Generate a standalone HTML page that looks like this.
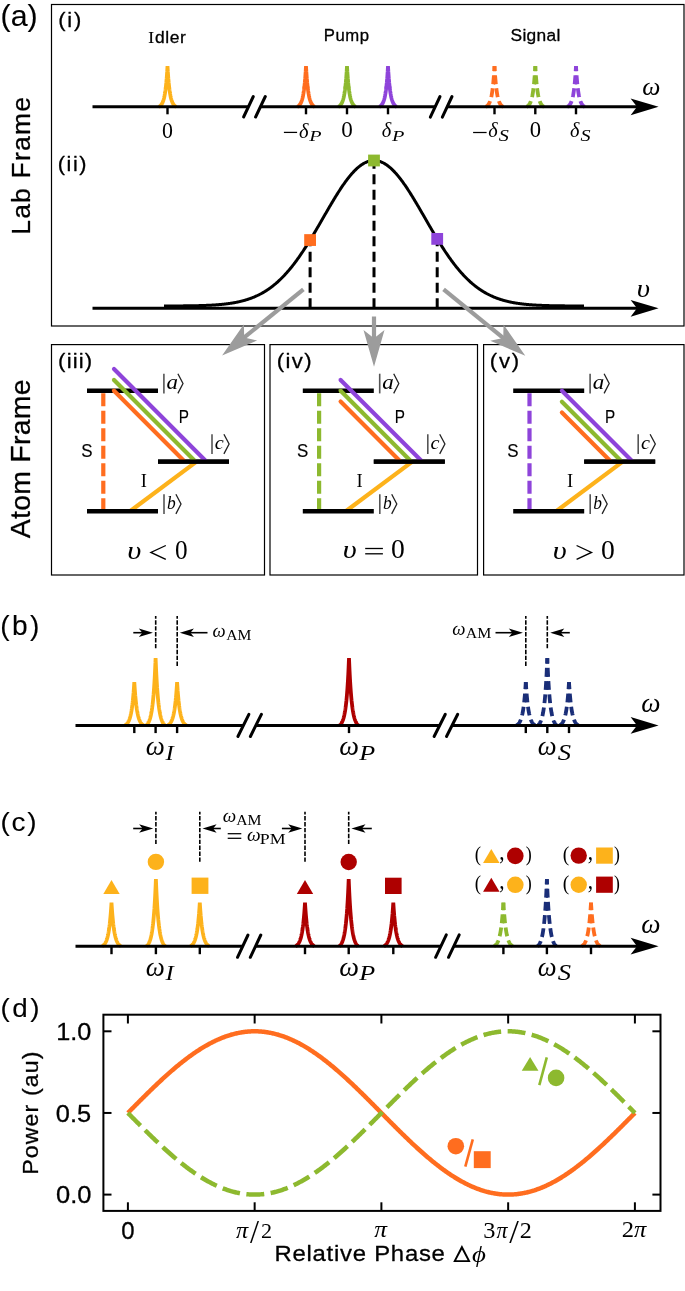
<!DOCTYPE html>
<html><head><meta charset="utf-8"><style>html,body{margin:0;padding:0;background:#fff;overflow:hidden}svg{display:block;will-change:transform}</style></head>
<body><svg width="685" height="1291" viewBox="0 0 685 1291">
<rect width="685" height="1291" fill="#fff"/>
<rect x="51.50" y="4.50" width="632.50" height="321.50" fill="none" stroke="#000" stroke-width="1.2"/>
<path d="M158.70,106.80 L158.88,106.72 L159.05,106.63 L159.23,106.54 L159.40,106.44 L159.58,106.33 L159.76,106.21 L159.93,106.09 L160.11,105.95 L160.28,105.80 L160.46,105.65 L160.64,105.48 L160.81,105.30 L160.99,105.10 L161.16,104.89 L161.34,104.67 L161.52,104.42 L161.69,104.16 L161.87,103.88 L162.04,103.57 L162.22,103.25 L162.40,102.90 L162.57,102.52 L162.75,102.11 L162.92,101.67 L163.10,101.20 L163.28,100.70 L163.45,100.15 L163.63,99.56 L163.80,98.93 L163.98,98.25 L164.16,97.52 L164.33,96.73 L164.51,95.89 L164.68,94.98 L164.86,94.00 L165.04,92.94 L165.21,91.81 L165.39,90.58 L165.56,89.27 L165.74,87.85 L165.92,86.33 L166.09,84.69 L166.27,82.93 L166.44,81.03 L166.62,78.99 L166.80,76.79 L166.97,74.43 L167.15,71.88 L167.32,69.15 L167.50,66.20 L167.68,69.15 L167.85,71.88 L168.03,74.43 L168.20,76.79 L168.38,78.99 L168.56,81.03 L168.73,82.93 L168.91,84.69 L169.08,86.33 L169.26,87.85 L169.44,89.27 L169.61,90.58 L169.79,91.81 L169.96,92.94 L170.14,94.00 L170.32,94.98 L170.49,95.89 L170.67,96.73 L170.84,97.52 L171.02,98.25 L171.20,98.93 L171.37,99.56 L171.55,100.15 L171.72,100.70 L171.90,101.20 L172.08,101.67 L172.25,102.11 L172.43,102.52 L172.60,102.90 L172.78,103.25 L172.96,103.57 L173.13,103.88 L173.31,104.16 L173.48,104.42 L173.66,104.67 L173.84,104.89 L174.01,105.10 L174.19,105.30 L174.36,105.48 L174.54,105.65 L174.72,105.80 L174.89,105.95 L175.07,106.09 L175.24,106.21 L175.42,106.33 L175.60,106.44 L175.77,106.54 L175.95,106.63 L176.12,106.72 L176.30,106.80" fill="none" stroke="#FDB21B" stroke-width="3.8" stroke-linejoin="bevel"/>
<path d="M297.20,106.80 L297.38,106.72 L297.55,106.63 L297.73,106.54 L297.90,106.44 L298.08,106.33 L298.26,106.21 L298.43,106.09 L298.61,105.95 L298.78,105.80 L298.96,105.65 L299.14,105.48 L299.31,105.30 L299.49,105.10 L299.66,104.89 L299.84,104.67 L300.02,104.42 L300.19,104.16 L300.37,103.88 L300.54,103.57 L300.72,103.25 L300.90,102.90 L301.07,102.52 L301.25,102.11 L301.42,101.67 L301.60,101.20 L301.78,100.70 L301.95,100.15 L302.13,99.56 L302.30,98.93 L302.48,98.25 L302.66,97.52 L302.83,96.73 L303.01,95.89 L303.18,94.98 L303.36,94.00 L303.54,92.94 L303.71,91.81 L303.89,90.58 L304.06,89.27 L304.24,87.85 L304.42,86.33 L304.59,84.69 L304.77,82.93 L304.94,81.03 L305.12,78.99 L305.30,76.79 L305.47,74.43 L305.65,71.88 L305.82,69.15 L306.00,66.20 L306.18,69.15 L306.35,71.88 L306.53,74.43 L306.70,76.79 L306.88,78.99 L307.06,81.03 L307.23,82.93 L307.41,84.69 L307.58,86.33 L307.76,87.85 L307.94,89.27 L308.11,90.58 L308.29,91.81 L308.46,92.94 L308.64,94.00 L308.82,94.98 L308.99,95.89 L309.17,96.73 L309.34,97.52 L309.52,98.25 L309.70,98.93 L309.87,99.56 L310.05,100.15 L310.22,100.70 L310.40,101.20 L310.58,101.67 L310.75,102.11 L310.93,102.52 L311.10,102.90 L311.28,103.25 L311.46,103.57 L311.63,103.88 L311.81,104.16 L311.98,104.42 L312.16,104.67 L312.34,104.89 L312.51,105.10 L312.69,105.30 L312.86,105.48 L313.04,105.65 L313.22,105.80 L313.39,105.95 L313.57,106.09 L313.74,106.21 L313.92,106.33 L314.10,106.44 L314.27,106.54 L314.45,106.63 L314.62,106.72 L314.80,106.80" fill="none" stroke="#FF6D1F" stroke-width="3.8" stroke-linejoin="bevel"/>
<path d="M338.20,106.80 L338.38,106.72 L338.55,106.63 L338.73,106.54 L338.90,106.44 L339.08,106.33 L339.26,106.21 L339.43,106.09 L339.61,105.95 L339.78,105.80 L339.96,105.65 L340.14,105.48 L340.31,105.30 L340.49,105.10 L340.66,104.89 L340.84,104.67 L341.02,104.42 L341.19,104.16 L341.37,103.88 L341.54,103.57 L341.72,103.25 L341.90,102.90 L342.07,102.52 L342.25,102.11 L342.42,101.67 L342.60,101.20 L342.78,100.70 L342.95,100.15 L343.13,99.56 L343.30,98.93 L343.48,98.25 L343.66,97.52 L343.83,96.73 L344.01,95.89 L344.18,94.98 L344.36,94.00 L344.54,92.94 L344.71,91.81 L344.89,90.58 L345.06,89.27 L345.24,87.85 L345.42,86.33 L345.59,84.69 L345.77,82.93 L345.94,81.03 L346.12,78.99 L346.30,76.79 L346.47,74.43 L346.65,71.88 L346.82,69.15 L347.00,66.20 L347.18,69.15 L347.35,71.88 L347.53,74.43 L347.70,76.79 L347.88,78.99 L348.06,81.03 L348.23,82.93 L348.41,84.69 L348.58,86.33 L348.76,87.85 L348.94,89.27 L349.11,90.58 L349.29,91.81 L349.46,92.94 L349.64,94.00 L349.82,94.98 L349.99,95.89 L350.17,96.73 L350.34,97.52 L350.52,98.25 L350.70,98.93 L350.87,99.56 L351.05,100.15 L351.22,100.70 L351.40,101.20 L351.58,101.67 L351.75,102.11 L351.93,102.52 L352.10,102.90 L352.28,103.25 L352.46,103.57 L352.63,103.88 L352.81,104.16 L352.98,104.42 L353.16,104.67 L353.34,104.89 L353.51,105.10 L353.69,105.30 L353.86,105.48 L354.04,105.65 L354.22,105.80 L354.39,105.95 L354.57,106.09 L354.74,106.21 L354.92,106.33 L355.10,106.44 L355.27,106.54 L355.45,106.63 L355.62,106.72 L355.80,106.80" fill="none" stroke="#8DB92F" stroke-width="3.8" stroke-linejoin="bevel"/>
<path d="M379.20,106.80 L379.38,106.72 L379.55,106.63 L379.73,106.54 L379.90,106.44 L380.08,106.33 L380.26,106.21 L380.43,106.09 L380.61,105.95 L380.78,105.80 L380.96,105.65 L381.14,105.48 L381.31,105.30 L381.49,105.10 L381.66,104.89 L381.84,104.67 L382.02,104.42 L382.19,104.16 L382.37,103.88 L382.54,103.57 L382.72,103.25 L382.90,102.90 L383.07,102.52 L383.25,102.11 L383.42,101.67 L383.60,101.20 L383.78,100.70 L383.95,100.15 L384.13,99.56 L384.30,98.93 L384.48,98.25 L384.66,97.52 L384.83,96.73 L385.01,95.89 L385.18,94.98 L385.36,94.00 L385.54,92.94 L385.71,91.81 L385.89,90.58 L386.06,89.27 L386.24,87.85 L386.42,86.33 L386.59,84.69 L386.77,82.93 L386.94,81.03 L387.12,78.99 L387.30,76.79 L387.47,74.43 L387.65,71.88 L387.82,69.15 L388.00,66.20 L388.18,69.15 L388.35,71.88 L388.53,74.43 L388.70,76.79 L388.88,78.99 L389.06,81.03 L389.23,82.93 L389.41,84.69 L389.58,86.33 L389.76,87.85 L389.94,89.27 L390.11,90.58 L390.29,91.81 L390.46,92.94 L390.64,94.00 L390.82,94.98 L390.99,95.89 L391.17,96.73 L391.34,97.52 L391.52,98.25 L391.70,98.93 L391.87,99.56 L392.05,100.15 L392.22,100.70 L392.40,101.20 L392.58,101.67 L392.75,102.11 L392.93,102.52 L393.10,102.90 L393.28,103.25 L393.46,103.57 L393.63,103.88 L393.81,104.16 L393.98,104.42 L394.16,104.67 L394.34,104.89 L394.51,105.10 L394.69,105.30 L394.86,105.48 L395.04,105.65 L395.22,105.80 L395.39,105.95 L395.57,106.09 L395.74,106.21 L395.92,106.33 L396.10,106.44 L396.27,106.54 L396.45,106.63 L396.62,106.72 L396.80,106.80" fill="none" stroke="#8E44DA" stroke-width="3.8" stroke-linejoin="bevel"/>
<path d="M485.70,106.80 L485.88,106.72 L486.05,106.63 L486.23,106.54 L486.40,106.44 L486.58,106.33 L486.76,106.21 L486.93,106.09 L487.11,105.95 L487.28,105.80 L487.46,105.65 L487.64,105.48 L487.81,105.30 L487.99,105.10 L488.16,104.89 L488.34,104.67 L488.52,104.42 L488.69,104.16 L488.87,103.88 L489.04,103.57 L489.22,103.25 L489.40,102.90 L489.57,102.52 L489.75,102.11 L489.92,101.67 L490.10,101.20 L490.28,100.70 L490.45,100.15 L490.63,99.56 L490.80,98.93 L490.98,98.25 L491.16,97.52 L491.33,96.73 L491.51,95.89 L491.68,94.98 L491.86,94.00 L492.04,92.94 L492.21,91.81 L492.39,90.58 L492.56,89.27 L492.74,87.85 L492.92,86.33 L493.09,84.69 L493.27,82.93 L493.44,81.03 L493.62,78.99 L493.80,76.79 L493.97,74.43 L494.15,71.88 L494.32,69.15 L494.50,66.20" fill="none" stroke="#FF6D1F" stroke-width="3.8" stroke-dasharray="9,4.1" stroke-dashoffset="1.63"/>
<path d="M503.30,106.80 L503.12,106.72 L502.95,106.63 L502.77,106.54 L502.60,106.44 L502.42,106.33 L502.24,106.21 L502.07,106.09 L501.89,105.95 L501.72,105.80 L501.54,105.65 L501.36,105.48 L501.19,105.30 L501.01,105.10 L500.84,104.89 L500.66,104.67 L500.48,104.42 L500.31,104.16 L500.13,103.88 L499.96,103.57 L499.78,103.25 L499.60,102.90 L499.43,102.52 L499.25,102.11 L499.08,101.67 L498.90,101.20 L498.72,100.70 L498.55,100.15 L498.37,99.56 L498.20,98.93 L498.02,98.25 L497.84,97.52 L497.67,96.73 L497.49,95.89 L497.32,94.98 L497.14,94.00 L496.96,92.94 L496.79,91.81 L496.61,90.58 L496.44,89.27 L496.26,87.85 L496.08,86.33 L495.91,84.69 L495.73,82.93 L495.56,81.03 L495.38,78.99 L495.20,76.79 L495.03,74.43 L494.85,71.88 L494.68,69.15 L494.50,66.20" fill="none" stroke="#FF6D1F" stroke-width="3.8" stroke-dasharray="9,4.1" stroke-dashoffset="1.63"/>
<path d="M526.50,106.80 L526.68,106.72 L526.85,106.63 L527.03,106.54 L527.20,106.44 L527.38,106.33 L527.56,106.21 L527.73,106.09 L527.91,105.95 L528.08,105.80 L528.26,105.65 L528.44,105.48 L528.61,105.30 L528.79,105.10 L528.96,104.89 L529.14,104.67 L529.32,104.42 L529.49,104.16 L529.67,103.88 L529.84,103.57 L530.02,103.25 L530.20,102.90 L530.37,102.52 L530.55,102.11 L530.72,101.67 L530.90,101.20 L531.08,100.70 L531.25,100.15 L531.43,99.56 L531.60,98.93 L531.78,98.25 L531.96,97.52 L532.13,96.73 L532.31,95.89 L532.48,94.98 L532.66,94.00 L532.84,92.94 L533.01,91.81 L533.19,90.58 L533.36,89.27 L533.54,87.85 L533.72,86.33 L533.89,84.69 L534.07,82.93 L534.24,81.03 L534.42,78.99 L534.60,76.79 L534.77,74.43 L534.95,71.88 L535.12,69.15 L535.30,66.20" fill="none" stroke="#8DB92F" stroke-width="3.8" stroke-dasharray="9,4.1" stroke-dashoffset="1.63"/>
<path d="M544.10,106.80 L543.92,106.72 L543.75,106.63 L543.57,106.54 L543.40,106.44 L543.22,106.33 L543.04,106.21 L542.87,106.09 L542.69,105.95 L542.52,105.80 L542.34,105.65 L542.16,105.48 L541.99,105.30 L541.81,105.10 L541.64,104.89 L541.46,104.67 L541.28,104.42 L541.11,104.16 L540.93,103.88 L540.76,103.57 L540.58,103.25 L540.40,102.90 L540.23,102.52 L540.05,102.11 L539.88,101.67 L539.70,101.20 L539.52,100.70 L539.35,100.15 L539.17,99.56 L539.00,98.93 L538.82,98.25 L538.64,97.52 L538.47,96.73 L538.29,95.89 L538.12,94.98 L537.94,94.00 L537.76,92.94 L537.59,91.81 L537.41,90.58 L537.24,89.27 L537.06,87.85 L536.88,86.33 L536.71,84.69 L536.53,82.93 L536.36,81.03 L536.18,78.99 L536.00,76.79 L535.83,74.43 L535.65,71.88 L535.48,69.15 L535.30,66.20" fill="none" stroke="#8DB92F" stroke-width="3.8" stroke-dasharray="9,4.1" stroke-dashoffset="1.63"/>
<path d="M567.20,106.80 L567.38,106.72 L567.55,106.63 L567.73,106.54 L567.90,106.44 L568.08,106.33 L568.26,106.21 L568.43,106.09 L568.61,105.95 L568.78,105.80 L568.96,105.65 L569.14,105.48 L569.31,105.30 L569.49,105.10 L569.66,104.89 L569.84,104.67 L570.02,104.42 L570.19,104.16 L570.37,103.88 L570.54,103.57 L570.72,103.25 L570.90,102.90 L571.07,102.52 L571.25,102.11 L571.42,101.67 L571.60,101.20 L571.78,100.70 L571.95,100.15 L572.13,99.56 L572.30,98.93 L572.48,98.25 L572.66,97.52 L572.83,96.73 L573.01,95.89 L573.18,94.98 L573.36,94.00 L573.54,92.94 L573.71,91.81 L573.89,90.58 L574.06,89.27 L574.24,87.85 L574.42,86.33 L574.59,84.69 L574.77,82.93 L574.94,81.03 L575.12,78.99 L575.30,76.79 L575.47,74.43 L575.65,71.88 L575.82,69.15 L576.00,66.20" fill="none" stroke="#8E44DA" stroke-width="3.8" stroke-dasharray="9,4.1" stroke-dashoffset="1.63"/>
<path d="M584.80,106.80 L584.62,106.72 L584.45,106.63 L584.27,106.54 L584.10,106.44 L583.92,106.33 L583.74,106.21 L583.57,106.09 L583.39,105.95 L583.22,105.80 L583.04,105.65 L582.86,105.48 L582.69,105.30 L582.51,105.10 L582.34,104.89 L582.16,104.67 L581.98,104.42 L581.81,104.16 L581.63,103.88 L581.46,103.57 L581.28,103.25 L581.10,102.90 L580.93,102.52 L580.75,102.11 L580.58,101.67 L580.40,101.20 L580.22,100.70 L580.05,100.15 L579.87,99.56 L579.70,98.93 L579.52,98.25 L579.34,97.52 L579.17,96.73 L578.99,95.89 L578.82,94.98 L578.64,94.00 L578.46,92.94 L578.29,91.81 L578.11,90.58 L577.94,89.27 L577.76,87.85 L577.58,86.33 L577.41,84.69 L577.23,82.93 L577.06,81.03 L576.88,78.99 L576.70,76.79 L576.53,74.43 L576.35,71.88 L576.18,69.15 L576.00,66.20" fill="none" stroke="#8E44DA" stroke-width="3.8" stroke-dasharray="9,4.1" stroke-dashoffset="1.63"/>
<line x1="92.50" y1="106.80" x2="638.00" y2="106.80" stroke="#000" stroke-width="3" />
<polygon points="658.60,106.80 630.60,98.45 637.00,106.80 630.60,115.15" fill="#000"/>
<polygon points="249.87,103.75 261.87,103.75 259.03,109.75 247.03,109.75" fill="#fff"/>
<line x1="243.60" y1="117.00" x2="253.30" y2="96.50" stroke="#000" stroke-width="3" stroke-linecap="round"/>
<line x1="255.60" y1="117.00" x2="265.30" y2="96.50" stroke="#000" stroke-width="3" stroke-linecap="round"/>
<polygon points="436.58,103.80 448.58,103.80 445.77,109.80 433.77,109.80" fill="#fff"/>
<line x1="430.35" y1="117.10" x2="440.00" y2="96.50" stroke="#000" stroke-width="3" stroke-linecap="round"/>
<line x1="442.35" y1="117.10" x2="452.00" y2="96.50" stroke="#000" stroke-width="3" stroke-linecap="round"/>
<line x1="167.50" y1="106.80" x2="167.50" y2="114.30" stroke="#000" stroke-width="2.4" />
<line x1="306.00" y1="106.80" x2="306.00" y2="114.30" stroke="#000" stroke-width="2.4" />
<line x1="347.00" y1="106.80" x2="347.00" y2="114.30" stroke="#000" stroke-width="2.4" />
<line x1="388.00" y1="106.80" x2="388.00" y2="114.30" stroke="#000" stroke-width="2.4" />
<line x1="494.50" y1="106.80" x2="494.50" y2="114.30" stroke="#000" stroke-width="2.4" />
<line x1="535.30" y1="106.80" x2="535.30" y2="114.30" stroke="#000" stroke-width="2.4" />
<line x1="576.00" y1="106.80" x2="576.00" y2="114.30" stroke="#000" stroke-width="2.4" />
<rect x="283.90" y="131.78" width="13.20" height="1.25" fill="#000"/>
<rect x="473.10" y="131.88" width="13.50" height="1.25" fill="#000"/>
<path d="M164.00,305.97 L164.50,305.97 L165.00,305.97 L165.50,305.97 L166.00,305.97 L166.50,305.97 L167.00,305.96 L167.50,305.96 L168.00,305.96 L168.50,305.96 L169.00,305.96 L169.50,305.96 L170.00,305.95 L170.50,305.95 L171.00,305.95 L171.50,305.95 L172.00,305.95 L172.50,305.94 L173.00,305.94 L173.50,305.94 L174.00,305.94 L174.50,305.93 L175.00,305.93 L175.50,305.93 L176.00,305.93 L176.50,305.92 L177.00,305.92 L177.50,305.92 L178.00,305.91 L178.50,305.91 L179.00,305.91 L179.50,305.90 L180.00,305.90 L180.50,305.90 L181.00,305.89 L181.50,305.89 L182.00,305.88 L182.50,305.88 L183.00,305.88 L183.50,305.87 L184.00,305.87 L184.50,305.86 L185.00,305.86 L185.50,305.85 L186.00,305.85 L186.50,305.84 L187.00,305.83 L187.50,305.83 L188.00,305.82 L188.50,305.81 L189.00,305.81 L189.50,305.80 L190.00,305.79 L190.50,305.79 L191.00,305.78 L191.50,305.77 L192.00,305.76 L192.50,305.75 L193.00,305.75 L193.50,305.74 L194.00,305.73 L194.50,305.72 L195.00,305.71 L195.50,305.70 L196.00,305.69 L196.50,305.68 L197.00,305.66 L197.50,305.65 L198.00,305.64 L198.50,305.63 L199.00,305.61 L199.50,305.60 L200.00,305.59 L200.50,305.57 L201.00,305.56 L201.50,305.54 L202.00,305.53 L202.50,305.51 L203.00,305.50 L203.50,305.48 L204.00,305.46 L204.50,305.44 L205.00,305.43 L205.50,305.41 L206.00,305.39 L206.50,305.37 L207.00,305.35 L207.50,305.32 L208.00,305.30 L208.50,305.28 L209.00,305.26 L209.50,305.23 L210.00,305.21 L210.50,305.18 L211.00,305.15 L211.50,305.13 L212.00,305.10 L212.50,305.07 L213.00,305.04 L213.50,305.01 L214.00,304.98 L214.50,304.95 L215.00,304.91 L215.50,304.88 L216.00,304.85 L216.50,304.81 L217.00,304.77 L217.50,304.74 L218.00,304.70 L218.50,304.66 L219.00,304.62 L219.50,304.57 L220.00,304.53 L220.50,304.49 L221.00,304.44 L221.50,304.39 L222.00,304.35 L222.50,304.30 L223.00,304.24 L223.50,304.19 L224.00,304.14 L224.50,304.08 L225.00,304.03 L225.50,303.97 L226.00,303.91 L226.50,303.85 L227.00,303.79 L227.50,303.73 L228.00,303.66 L228.50,303.59 L229.00,303.52 L229.50,303.45 L230.00,303.38 L230.50,303.31 L231.00,303.23 L231.50,303.15 L232.00,303.07 L232.50,302.99 L233.00,302.91 L233.50,302.82 L234.00,302.74 L234.50,302.65 L235.00,302.56 L235.50,302.46 L236.00,302.37 L236.50,302.27 L237.00,302.17 L237.50,302.06 L238.00,301.96 L238.50,301.85 L239.00,301.74 L239.50,301.63 L240.00,301.51 L240.50,301.40 L241.00,301.27 L241.50,301.15 L242.00,301.03 L242.50,300.90 L243.00,300.77 L243.50,300.63 L244.00,300.49 L244.50,300.35 L245.00,300.21 L245.50,300.06 L246.00,299.92 L246.50,299.76 L247.00,299.61 L247.50,299.45 L248.00,299.29 L248.50,299.12 L249.00,298.95 L249.50,298.78 L250.00,298.60 L250.50,298.42 L251.00,298.24 L251.50,298.05 L252.00,297.86 L252.50,297.67 L253.00,297.47 L253.50,297.27 L254.00,297.06 L254.50,296.85 L255.00,296.64 L255.50,296.42 L256.00,296.20 L256.50,295.97 L257.00,295.74 L257.50,295.51 L258.00,295.27 L258.50,295.03 L259.00,294.78 L259.50,294.53 L260.00,294.27 L260.50,294.01 L261.00,293.74 L261.50,293.47 L262.00,293.20 L262.50,292.92 L263.00,292.63 L263.50,292.34 L264.00,292.05 L264.50,291.75 L265.00,291.44 L265.50,291.13 L266.00,290.82 L266.50,290.50 L267.00,290.17 L267.50,289.84 L268.00,289.50 L268.50,289.16 L269.00,288.81 L269.50,288.46 L270.00,288.10 L270.50,287.74 L271.00,287.37 L271.50,287.00 L272.00,286.62 L272.50,286.23 L273.00,285.84 L273.50,285.44 L274.00,285.04 L274.50,284.63 L275.00,284.21 L275.50,283.79 L276.00,283.37 L276.50,282.93 L277.00,282.50 L277.50,282.05 L278.00,281.60 L278.50,281.14 L279.00,280.68 L279.50,280.21 L280.00,279.74 L280.50,279.25 L281.00,278.77 L281.50,278.27 L282.00,277.77 L282.50,277.27 L283.00,276.75 L283.50,276.24 L284.00,275.71 L284.50,275.18 L285.00,274.64 L285.50,274.10 L286.00,273.55 L286.50,272.99 L287.00,272.43 L287.50,271.86 L288.00,271.28 L288.50,270.70 L289.00,270.11 L289.50,269.52 L290.00,268.92 L290.50,268.31 L291.00,267.70 L291.50,267.08 L292.00,266.46 L292.50,265.83 L293.00,265.19 L293.50,264.54 L294.00,263.89 L294.50,263.24 L295.00,262.58 L295.50,261.91 L296.00,261.24 L296.50,260.56 L297.00,259.87 L297.50,259.18 L298.00,258.48 L298.50,257.78 L299.00,257.07 L299.50,256.36 L300.00,255.64 L300.50,254.92 L301.00,254.18 L301.50,253.45 L302.00,252.71 L302.50,251.96 L303.00,251.21 L303.50,250.46 L304.00,249.69 L304.50,248.93 L305.00,248.16 L305.50,247.38 L306.00,246.60 L306.50,245.82 L307.00,245.03 L307.50,244.23 L308.00,243.44 L308.50,242.63 L309.00,241.83 L309.50,241.02 L310.00,240.20 L310.50,239.39 L311.00,238.56 L311.50,237.74 L312.00,236.91 L312.50,236.08 L313.00,235.24 L313.50,234.41 L314.00,233.57 L314.50,232.72 L315.00,231.88 L315.50,231.03 L316.00,230.18 L316.50,229.32 L317.00,228.47 L317.50,227.61 L318.00,226.75 L318.50,225.89 L319.00,225.03 L319.50,224.17 L320.00,223.30 L320.50,222.44 L321.00,221.57 L321.50,220.70 L322.00,219.83 L322.50,218.97 L323.00,218.10 L323.50,217.23 L324.00,216.36 L324.50,215.49 L325.00,214.62 L325.50,213.76 L326.00,212.89 L326.50,212.03 L327.00,211.16 L327.50,210.30 L328.00,209.44 L328.50,208.58 L329.00,207.72 L329.50,206.86 L330.00,206.01 L330.50,205.16 L331.00,204.31 L331.50,203.46 L332.00,202.62 L332.50,201.78 L333.00,200.95 L333.50,200.11 L334.00,199.28 L334.50,198.46 L335.00,197.64 L335.50,196.82 L336.00,196.01 L336.50,195.20 L337.00,194.40 L337.50,193.60 L338.00,192.81 L338.50,192.02 L339.00,191.24 L339.50,190.47 L340.00,189.70 L340.50,188.93 L341.00,188.18 L341.50,187.43 L342.00,186.68 L342.50,185.95 L343.00,185.22 L343.50,184.50 L344.00,183.78 L344.50,183.08 L345.00,182.38 L345.50,181.69 L346.00,181.00 L346.50,180.33 L347.00,179.67 L347.50,179.01 L348.00,178.36 L348.50,177.72 L349.00,177.09 L349.50,176.47 L350.00,175.86 L350.50,175.26 L351.00,174.67 L351.50,174.09 L352.00,173.52 L352.50,172.96 L353.00,172.42 L353.50,171.88 L354.00,171.35 L354.50,170.83 L355.00,170.33 L355.50,169.84 L356.00,169.35 L356.50,168.88 L357.00,168.42 L357.50,167.98 L358.00,167.54 L358.50,167.12 L359.00,166.71 L359.50,166.31 L360.00,165.92 L360.50,165.55 L361.00,165.19 L361.50,164.84 L362.00,164.50 L362.50,164.18 L363.00,163.87 L363.50,163.58 L364.00,163.29 L364.50,163.02 L365.00,162.77 L365.50,162.52 L366.00,162.29 L366.50,162.08 L367.00,161.87 L367.50,161.69 L368.00,161.51 L368.50,161.35 L369.00,161.20 L369.50,161.07 L370.00,160.95 L370.50,160.84 L371.00,160.75 L371.50,160.68 L372.00,160.61 L372.50,160.56 L373.00,160.53 L373.50,160.51 L374.00,160.50 L374.50,160.51 L375.00,160.53 L375.50,160.56 L376.00,160.61 L376.50,160.68 L377.00,160.75 L377.50,160.84 L378.00,160.95 L378.50,161.07 L379.00,161.20 L379.50,161.35 L380.00,161.51 L380.50,161.69 L381.00,161.87 L381.50,162.08 L382.00,162.29 L382.50,162.52 L383.00,162.77 L383.50,163.02 L384.00,163.29 L384.50,163.58 L385.00,163.87 L385.50,164.18 L386.00,164.50 L386.50,164.84 L387.00,165.19 L387.50,165.55 L388.00,165.92 L388.50,166.31 L389.00,166.71 L389.50,167.12 L390.00,167.54 L390.50,167.98 L391.00,168.42 L391.50,168.88 L392.00,169.35 L392.50,169.84 L393.00,170.33 L393.50,170.83 L394.00,171.35 L394.50,171.88 L395.00,172.42 L395.50,172.96 L396.00,173.52 L396.50,174.09 L397.00,174.67 L397.50,175.26 L398.00,175.86 L398.50,176.47 L399.00,177.09 L399.50,177.72 L400.00,178.36 L400.50,179.01 L401.00,179.67 L401.50,180.33 L402.00,181.00 L402.50,181.69 L403.00,182.38 L403.50,183.08 L404.00,183.78 L404.50,184.50 L405.00,185.22 L405.50,185.95 L406.00,186.68 L406.50,187.43 L407.00,188.18 L407.50,188.93 L408.00,189.70 L408.50,190.47 L409.00,191.24 L409.50,192.02 L410.00,192.81 L410.50,193.60 L411.00,194.40 L411.50,195.20 L412.00,196.01 L412.50,196.82 L413.00,197.64 L413.50,198.46 L414.00,199.28 L414.50,200.11 L415.00,200.95 L415.50,201.78 L416.00,202.62 L416.50,203.46 L417.00,204.31 L417.50,205.16 L418.00,206.01 L418.50,206.86 L419.00,207.72 L419.50,208.58 L420.00,209.44 L420.50,210.30 L421.00,211.16 L421.50,212.03 L422.00,212.89 L422.50,213.76 L423.00,214.62 L423.50,215.49 L424.00,216.36 L424.50,217.23 L425.00,218.10 L425.50,218.97 L426.00,219.83 L426.50,220.70 L427.00,221.57 L427.50,222.44 L428.00,223.30 L428.50,224.17 L429.00,225.03 L429.50,225.89 L430.00,226.75 L430.50,227.61 L431.00,228.47 L431.50,229.32 L432.00,230.18 L432.50,231.03 L433.00,231.88 L433.50,232.72 L434.00,233.57 L434.50,234.41 L435.00,235.24 L435.50,236.08 L436.00,236.91 L436.50,237.74 L437.00,238.56 L437.50,239.39 L438.00,240.20 L438.50,241.02 L439.00,241.83 L439.50,242.63 L440.00,243.44 L440.50,244.23 L441.00,245.03 L441.50,245.82 L442.00,246.60 L442.50,247.38 L443.00,248.16 L443.50,248.93 L444.00,249.69 L444.50,250.46 L445.00,251.21 L445.50,251.96 L446.00,252.71 L446.50,253.45 L447.00,254.18 L447.50,254.92 L448.00,255.64 L448.50,256.36 L449.00,257.07 L449.50,257.78 L450.00,258.48 L450.50,259.18 L451.00,259.87 L451.50,260.56 L452.00,261.24 L452.50,261.91 L453.00,262.58 L453.50,263.24 L454.00,263.89 L454.50,264.54 L455.00,265.19 L455.50,265.83 L456.00,266.46 L456.50,267.08 L457.00,267.70 L457.50,268.31 L458.00,268.92 L458.50,269.52 L459.00,270.11 L459.50,270.70 L460.00,271.28 L460.50,271.86 L461.00,272.43 L461.50,272.99 L462.00,273.55 L462.50,274.10 L463.00,274.64 L463.50,275.18 L464.00,275.71 L464.50,276.24 L465.00,276.75 L465.50,277.27 L466.00,277.77 L466.50,278.27 L467.00,278.77 L467.50,279.25 L468.00,279.74 L468.50,280.21 L469.00,280.68 L469.50,281.14 L470.00,281.60 L470.50,282.05 L471.00,282.50 L471.50,282.93 L472.00,283.37 L472.50,283.79 L473.00,284.21 L473.50,284.63 L474.00,285.04 L474.50,285.44 L475.00,285.84 L475.50,286.23 L476.00,286.62 L476.50,287.00 L477.00,287.37 L477.50,287.74 L478.00,288.10 L478.50,288.46 L479.00,288.81 L479.50,289.16 L480.00,289.50 L480.50,289.84 L481.00,290.17 L481.50,290.50 L482.00,290.82 L482.50,291.13 L483.00,291.44 L483.50,291.75 L484.00,292.05 L484.50,292.34 L485.00,292.63 L485.50,292.92 L486.00,293.20 L486.50,293.47 L487.00,293.74 L487.50,294.01 L488.00,294.27 L488.50,294.53 L489.00,294.78 L489.50,295.03 L490.00,295.27 L490.50,295.51 L491.00,295.74 L491.50,295.97 L492.00,296.20 L492.50,296.42 L493.00,296.64 L493.50,296.85 L494.00,297.06 L494.50,297.27 L495.00,297.47 L495.50,297.67 L496.00,297.86 L496.50,298.05 L497.00,298.24 L497.50,298.42 L498.00,298.60 L498.50,298.78 L499.00,298.95 L499.50,299.12 L500.00,299.29 L500.50,299.45 L501.00,299.61 L501.50,299.76 L502.00,299.92 L502.50,300.06 L503.00,300.21 L503.50,300.35 L504.00,300.49 L504.50,300.63 L505.00,300.77 L505.50,300.90 L506.00,301.03 L506.50,301.15 L507.00,301.27 L507.50,301.40 L508.00,301.51 L508.50,301.63 L509.00,301.74 L509.50,301.85 L510.00,301.96 L510.50,302.06 L511.00,302.17 L511.50,302.27 L512.00,302.37 L512.50,302.46 L513.00,302.56 L513.50,302.65 L514.00,302.74 L514.50,302.82 L515.00,302.91 L515.50,302.99 L516.00,303.07 L516.50,303.15 L517.00,303.23 L517.50,303.31 L518.00,303.38 L518.50,303.45 L519.00,303.52 L519.50,303.59 L520.00,303.66 L520.50,303.73 L521.00,303.79 L521.50,303.85 L522.00,303.91 L522.50,303.97 L523.00,304.03 L523.50,304.08 L524.00,304.14 L524.50,304.19 L525.00,304.24 L525.50,304.30 L526.00,304.35 L526.50,304.39 L527.00,304.44 L527.50,304.49 L528.00,304.53 L528.50,304.57 L529.00,304.62 L529.50,304.66 L530.00,304.70 L530.50,304.74 L531.00,304.77 L531.50,304.81 L532.00,304.85 L532.50,304.88 L533.00,304.91 L533.50,304.95 L534.00,304.98 L534.50,305.01 L535.00,305.04 L535.50,305.07 L536.00,305.10 L536.50,305.13 L537.00,305.15 L537.50,305.18 L538.00,305.21 L538.50,305.23 L539.00,305.26 L539.50,305.28 L540.00,305.30 L540.50,305.32 L541.00,305.35 L541.50,305.37 L542.00,305.39 L542.50,305.41 L543.00,305.43 L543.50,305.44 L544.00,305.46 L544.50,305.48 L545.00,305.50 L545.50,305.51 L546.00,305.53 L546.50,305.54 L547.00,305.56 L547.50,305.57 L548.00,305.59 L548.50,305.60 L549.00,305.61 L549.50,305.63 L550.00,305.64 L550.50,305.65 L551.00,305.66 L551.50,305.68 L552.00,305.69 L552.50,305.70 L553.00,305.71 L553.50,305.72 L554.00,305.73 L554.50,305.74 L555.00,305.75 L555.50,305.75 L556.00,305.76 L556.50,305.77 L557.00,305.78 L557.50,305.79 L558.00,305.79 L558.50,305.80 L559.00,305.81 L559.50,305.81 L560.00,305.82 L560.50,305.83 L561.00,305.83 L561.50,305.84 L562.00,305.85 L562.50,305.85 L563.00,305.86 L563.50,305.86 L564.00,305.87 L564.50,305.87 L565.00,305.88 L565.50,305.88 L566.00,305.88 L566.50,305.89 L567.00,305.89 L567.50,305.90 L568.00,305.90 L568.50,305.90 L569.00,305.91 L569.50,305.91 L570.00,305.91 L570.50,305.92 L571.00,305.92 L571.50,305.92 L572.00,305.93 L572.50,305.93 L573.00,305.93 L573.50,305.93 L574.00,305.94 L574.50,305.94 L575.00,305.94 L575.50,305.94 L576.00,305.95 L576.50,305.95 L577.00,305.95 L577.50,305.95 L578.00,305.95 L578.50,305.96 L579.00,305.96 L579.50,305.96 L580.00,305.96 L580.50,305.96 L581.00,305.96 L581.50,305.97 L582.00,305.97 L582.50,305.97 L583.00,305.97 L583.50,305.97 L584.00,305.97" fill="none" stroke="#000" stroke-width="3.0" />
<line x1="310.10" y1="308.30" x2="310.10" y2="240.04" stroke="#000" stroke-width="3" stroke-dasharray="10,5.5"/>
<rect x="304.20" y="234.14" width="11.80" height="11.80" fill="#FF6D1F"/>
<line x1="374.00" y1="308.30" x2="374.00" y2="160.50" stroke="#000" stroke-width="3" stroke-dasharray="10,5.5"/>
<rect x="368.10" y="154.60" width="11.80" height="11.80" fill="#8DB92F"/>
<line x1="437.20" y1="308.30" x2="437.20" y2="238.89" stroke="#000" stroke-width="3" stroke-dasharray="10,5.5"/>
<rect x="431.30" y="232.99" width="11.80" height="11.80" fill="#8E44DA"/>
<line x1="92.50" y1="308.30" x2="638.00" y2="308.30" stroke="#000" stroke-width="3" />
<polygon points="658.60,308.30 630.60,299.95 637.00,308.30 630.60,316.65" fill="#000"/>
<rect x="51.50" y="344.60" width="213.00" height="230.40" fill="none" stroke="#000" stroke-width="1.2"/>
<rect x="270.00" y="344.60" width="207.50" height="230.40" fill="none" stroke="#000" stroke-width="1.2"/>
<rect x="483.60" y="344.60" width="200.40" height="230.40" fill="none" stroke="#000" stroke-width="1.2"/>
<line x1="303.40" y1="289.40" x2="243.37" y2="338.13" stroke="#9C9C9C" stroke-width="4.2" />
<polygon points="222.10,355.40 243.90,324.18 244.15,337.50 257.13,340.48" fill="#9C9C9C"/>
<line x1="374.00" y1="316.50" x2="374.00" y2="339.30" stroke="#9C9C9C" stroke-width="4.2" />
<polygon points="374.00,366.70 363.50,330.10 374.00,338.30 384.50,330.10" fill="#9C9C9C"/>
<line x1="443.60" y1="289.40" x2="504.04" y2="338.52" stroke="#9C9C9C" stroke-width="4.2" />
<polygon points="525.30,355.80 490.28,340.86 503.26,337.89 503.52,324.57" fill="#9C9C9C"/>
<line x1="103.30" y1="511.30" x2="103.30" y2="390.80" stroke="#FF6D1F" stroke-width="4.2" stroke-dasharray="13,4.5"/>
<line x1="130.00" y1="511.30" x2="196.50" y2="461.60" stroke="#FDB21B" stroke-width="4.2" />
<line x1="87.00" y1="390.80" x2="158.00" y2="390.80" stroke="#000" stroke-width="4.4" />
<line x1="87.00" y1="511.30" x2="158.00" y2="511.30" stroke="#000" stroke-width="4.4" />
<line x1="158.00" y1="461.60" x2="229.00" y2="461.60" stroke="#000" stroke-width="4.4" />
<line x1="114.00" y1="390.80" x2="183.60" y2="460.40" stroke="#FF6D1F" stroke-width="4.2" stroke-linecap="round"/>
<line x1="114.00" y1="380.00" x2="194.40" y2="460.40" stroke="#8DB92F" stroke-width="4.2" stroke-linecap="round"/>
<line x1="114.00" y1="369.10" x2="205.30" y2="460.40" stroke="#8E44DA" stroke-width="4.2" stroke-linecap="round"/>
<line x1="158.00" y1="461.60" x2="229.00" y2="461.60" stroke="#000" stroke-width="4.4" />
<line x1="163.90" y1="373.70" x2="163.90" y2="393.40" stroke="#555" stroke-width="1.6" />
<path d="M177.90,373.70 L183.00,383.55 L177.90,393.40" fill="none" stroke="#222" stroke-width="1.3" />
<line x1="212.00" y1="434.20" x2="212.00" y2="453.90" stroke="#555" stroke-width="1.6" />
<path d="M223.90,434.20 L229.10,444.05 L223.90,453.90" fill="none" stroke="#222" stroke-width="1.3" />
<line x1="164.00" y1="494.20" x2="164.00" y2="513.90" stroke="#555" stroke-width="1.6" />
<path d="M175.90,494.20 L181.00,504.05 L175.90,513.90" fill="none" stroke="#222" stroke-width="1.3" />
<line x1="319.10" y1="511.30" x2="319.10" y2="390.80" stroke="#8DB92F" stroke-width="4.2" stroke-dasharray="13,4.5"/>
<line x1="345.80" y1="511.30" x2="412.30" y2="461.60" stroke="#FDB21B" stroke-width="4.2" />
<line x1="302.80" y1="390.80" x2="373.80" y2="390.80" stroke="#000" stroke-width="4.4" />
<line x1="302.80" y1="511.30" x2="373.80" y2="511.30" stroke="#000" stroke-width="4.4" />
<line x1="373.80" y1="461.60" x2="444.80" y2="461.60" stroke="#000" stroke-width="4.4" />
<line x1="340.60" y1="401.60" x2="399.40" y2="460.40" stroke="#FF6D1F" stroke-width="4.2" stroke-linecap="round"/>
<line x1="340.60" y1="390.80" x2="410.20" y2="460.40" stroke="#8DB92F" stroke-width="4.2" stroke-linecap="round"/>
<line x1="340.60" y1="379.90" x2="421.10" y2="460.40" stroke="#8E44DA" stroke-width="4.2" stroke-linecap="round"/>
<line x1="373.80" y1="461.60" x2="444.80" y2="461.60" stroke="#000" stroke-width="4.4" />
<line x1="379.70" y1="373.70" x2="379.70" y2="393.40" stroke="#555" stroke-width="1.6" />
<path d="M393.70,373.70 L398.80,383.55 L393.70,393.40" fill="none" stroke="#222" stroke-width="1.3" />
<line x1="427.80" y1="434.20" x2="427.80" y2="453.90" stroke="#555" stroke-width="1.6" />
<path d="M439.70,434.20 L444.90,444.05 L439.70,453.90" fill="none" stroke="#222" stroke-width="1.3" />
<line x1="379.80" y1="494.20" x2="379.80" y2="513.90" stroke="#555" stroke-width="1.6" />
<path d="M391.70,494.20 L396.80,504.05 L391.70,513.90" fill="none" stroke="#222" stroke-width="1.3" />
<line x1="529.50" y1="511.30" x2="529.50" y2="390.80" stroke="#8E44DA" stroke-width="4.2" stroke-dasharray="13,4.5"/>
<line x1="556.20" y1="511.30" x2="622.70" y2="461.60" stroke="#FDB21B" stroke-width="4.2" />
<line x1="513.20" y1="390.80" x2="584.20" y2="390.80" stroke="#000" stroke-width="4.4" />
<line x1="513.20" y1="511.30" x2="584.20" y2="511.30" stroke="#000" stroke-width="4.4" />
<line x1="584.20" y1="461.60" x2="655.20" y2="461.60" stroke="#000" stroke-width="4.4" />
<line x1="561.90" y1="412.50" x2="609.80" y2="460.40" stroke="#FF6D1F" stroke-width="4.2" stroke-linecap="round"/>
<line x1="561.90" y1="401.70" x2="620.60" y2="460.40" stroke="#8DB92F" stroke-width="4.2" stroke-linecap="round"/>
<line x1="561.90" y1="390.80" x2="631.50" y2="460.40" stroke="#8E44DA" stroke-width="4.2" stroke-linecap="round"/>
<line x1="584.20" y1="461.60" x2="655.20" y2="461.60" stroke="#000" stroke-width="4.4" />
<line x1="590.10" y1="373.70" x2="590.10" y2="393.40" stroke="#555" stroke-width="1.6" />
<path d="M604.10,373.70 L609.20,383.55 L604.10,393.40" fill="none" stroke="#222" stroke-width="1.3" />
<line x1="638.20" y1="434.20" x2="638.20" y2="453.90" stroke="#555" stroke-width="1.6" />
<path d="M650.10,434.20 L655.30,444.05 L650.10,453.90" fill="none" stroke="#222" stroke-width="1.3" />
<line x1="590.20" y1="494.20" x2="590.20" y2="513.90" stroke="#555" stroke-width="1.6" />
<path d="M602.10,494.20 L607.20,504.05 L602.10,513.90" fill="none" stroke="#222" stroke-width="1.3" />
<path d="M165.8,545.5 L150.9,552.45 L165.8,559.4" fill="none" stroke="#000" stroke-width="1.35" />
<rect x="365.20" y="547.85" width="17.70" height="1.30" fill="#000"/>
<rect x="365.20" y="553.15" width="17.70" height="1.30" fill="#000"/>
<path d="M576.6,545.5 L591.5,552.45 L576.6,559.4" fill="none" stroke="#000" stroke-width="1.35" />
<path d="M124.90,725.40 L125.09,725.30 L125.28,725.19 L125.46,725.07 L125.65,724.94 L125.84,724.80 L126.03,724.66 L126.22,724.50 L126.40,724.33 L126.59,724.16 L126.78,723.96 L126.97,723.76 L127.16,723.54 L127.34,723.30 L127.53,723.05 L127.72,722.78 L127.91,722.49 L128.10,722.18 L128.28,721.85 L128.47,721.50 L128.66,721.12 L128.85,720.71 L129.04,720.28 L129.22,719.81 L129.41,719.31 L129.60,718.78 L129.79,718.21 L129.98,717.59 L130.16,716.94 L130.35,716.24 L130.54,715.48 L130.73,714.68 L130.92,713.82 L131.10,712.89 L131.29,711.90 L131.48,710.85 L131.67,709.71 L131.86,708.50 L132.04,707.20 L132.23,705.81 L132.42,704.32 L132.61,702.72 L132.80,701.02 L132.98,699.19 L133.17,697.23 L133.36,695.13 L133.55,692.89 L133.74,690.48 L133.92,687.91 L134.11,685.15 L134.30,682.20 L134.49,685.15 L134.68,687.91 L134.86,690.48 L135.05,692.89 L135.24,695.13 L135.43,697.23 L135.62,699.19 L135.80,701.02 L135.99,702.72 L136.18,704.32 L136.37,705.81 L136.56,707.20 L136.74,708.50 L136.93,709.71 L137.12,710.85 L137.31,711.90 L137.50,712.89 L137.68,713.82 L137.87,714.68 L138.06,715.48 L138.25,716.24 L138.44,716.94 L138.62,717.59 L138.81,718.21 L139.00,718.78 L139.19,719.31 L139.38,719.81 L139.56,720.28 L139.75,720.71 L139.94,721.12 L140.13,721.50 L140.32,721.85 L140.50,722.18 L140.69,722.49 L140.88,722.78 L141.07,723.05 L141.26,723.30 L141.44,723.54 L141.63,723.76 L141.82,723.96 L142.01,724.16 L142.20,724.33 L142.38,724.50 L142.57,724.66 L142.76,724.80 L142.95,724.94 L143.14,725.07 L143.32,725.19 L143.51,725.30 L143.70,725.40" fill="none" stroke="#FDB21B" stroke-width="3.8" stroke-linejoin="bevel"/>
<path d="M146.20,725.40 L146.39,725.24 L146.58,725.07 L146.76,724.88 L146.95,724.68 L147.14,724.47 L147.33,724.24 L147.52,724.00 L147.70,723.74 L147.89,723.46 L148.08,723.16 L148.27,722.84 L148.46,722.50 L148.64,722.13 L148.83,721.74 L149.02,721.32 L149.21,720.87 L149.40,720.39 L149.58,719.87 L149.77,719.32 L149.96,718.73 L150.15,718.10 L150.34,717.42 L150.52,716.69 L150.71,715.92 L150.90,715.08 L151.09,714.19 L151.28,713.24 L151.46,712.22 L151.65,711.12 L151.84,709.95 L152.03,708.70 L152.22,707.35 L152.40,705.92 L152.59,704.38 L152.78,702.73 L152.97,700.96 L153.16,699.07 L153.34,697.05 L153.53,694.88 L153.72,692.56 L153.91,690.07 L154.10,687.41 L154.28,684.56 L154.47,681.51 L154.66,678.25 L154.85,674.75 L155.04,671.00 L155.22,666.99 L155.41,662.70 L155.60,658.10 L155.79,662.70 L155.98,666.99 L156.16,671.00 L156.35,674.75 L156.54,678.25 L156.73,681.51 L156.92,684.56 L157.10,687.41 L157.29,690.07 L157.48,692.56 L157.67,694.88 L157.86,697.05 L158.04,699.07 L158.23,700.96 L158.42,702.73 L158.61,704.38 L158.80,705.92 L158.98,707.35 L159.17,708.70 L159.36,709.95 L159.55,711.12 L159.74,712.22 L159.92,713.24 L160.11,714.19 L160.30,715.08 L160.49,715.92 L160.68,716.69 L160.86,717.42 L161.05,718.10 L161.24,718.73 L161.43,719.32 L161.62,719.87 L161.80,720.39 L161.99,720.87 L162.18,721.32 L162.37,721.74 L162.56,722.13 L162.74,722.50 L162.93,722.84 L163.12,723.16 L163.31,723.46 L163.50,723.74 L163.68,724.00 L163.87,724.24 L164.06,724.47 L164.25,724.68 L164.44,724.88 L164.62,725.07 L164.81,725.24 L165.00,725.40" fill="none" stroke="#FDB21B" stroke-width="3.8" stroke-linejoin="bevel"/>
<path d="M167.70,725.40 L167.89,725.30 L168.08,725.19 L168.26,725.07 L168.45,724.94 L168.64,724.80 L168.83,724.66 L169.02,724.50 L169.20,724.33 L169.39,724.16 L169.58,723.96 L169.77,723.76 L169.96,723.54 L170.14,723.30 L170.33,723.05 L170.52,722.78 L170.71,722.49 L170.90,722.18 L171.08,721.85 L171.27,721.50 L171.46,721.12 L171.65,720.71 L171.84,720.28 L172.02,719.81 L172.21,719.31 L172.40,718.78 L172.59,718.21 L172.78,717.59 L172.96,716.94 L173.15,716.24 L173.34,715.48 L173.53,714.68 L173.72,713.82 L173.90,712.89 L174.09,711.90 L174.28,710.85 L174.47,709.71 L174.66,708.50 L174.84,707.20 L175.03,705.81 L175.22,704.32 L175.41,702.72 L175.60,701.02 L175.78,699.19 L175.97,697.23 L176.16,695.13 L176.35,692.89 L176.54,690.48 L176.72,687.91 L176.91,685.15 L177.10,682.20 L177.29,685.15 L177.48,687.91 L177.66,690.48 L177.85,692.89 L178.04,695.13 L178.23,697.23 L178.42,699.19 L178.60,701.02 L178.79,702.72 L178.98,704.32 L179.17,705.81 L179.36,707.20 L179.54,708.50 L179.73,709.71 L179.92,710.85 L180.11,711.90 L180.30,712.89 L180.48,713.82 L180.67,714.68 L180.86,715.48 L181.05,716.24 L181.24,716.94 L181.42,717.59 L181.61,718.21 L181.80,718.78 L181.99,719.31 L182.18,719.81 L182.36,720.28 L182.55,720.71 L182.74,721.12 L182.93,721.50 L183.12,721.85 L183.30,722.18 L183.49,722.49 L183.68,722.78 L183.87,723.05 L184.06,723.30 L184.24,723.54 L184.43,723.76 L184.62,723.96 L184.81,724.16 L185.00,724.33 L185.18,724.50 L185.37,724.66 L185.56,724.80 L185.75,724.94 L185.94,725.07 L186.12,725.19 L186.31,725.30 L186.50,725.40" fill="none" stroke="#FDB21B" stroke-width="3.8" stroke-linejoin="bevel"/>
<path d="M339.60,725.40 L339.79,725.24 L339.98,725.07 L340.16,724.88 L340.35,724.68 L340.54,724.47 L340.73,724.24 L340.92,724.00 L341.10,723.74 L341.29,723.46 L341.48,723.16 L341.67,722.84 L341.86,722.50 L342.04,722.13 L342.23,721.74 L342.42,721.32 L342.61,720.87 L342.80,720.39 L342.98,719.87 L343.17,719.32 L343.36,718.73 L343.55,718.10 L343.74,717.42 L343.92,716.69 L344.11,715.92 L344.30,715.08 L344.49,714.19 L344.68,713.24 L344.86,712.22 L345.05,711.12 L345.24,709.95 L345.43,708.70 L345.62,707.35 L345.80,705.92 L345.99,704.38 L346.18,702.73 L346.37,700.96 L346.56,699.07 L346.74,697.05 L346.93,694.88 L347.12,692.56 L347.31,690.07 L347.50,687.41 L347.68,684.56 L347.87,681.51 L348.06,678.25 L348.25,674.75 L348.44,671.00 L348.62,666.99 L348.81,662.70 L349.00,658.10 L349.19,662.70 L349.38,666.99 L349.56,671.00 L349.75,674.75 L349.94,678.25 L350.13,681.51 L350.32,684.56 L350.50,687.41 L350.69,690.07 L350.88,692.56 L351.07,694.88 L351.26,697.05 L351.44,699.07 L351.63,700.96 L351.82,702.73 L352.01,704.38 L352.20,705.92 L352.38,707.35 L352.57,708.70 L352.76,709.95 L352.95,711.12 L353.14,712.22 L353.32,713.24 L353.51,714.19 L353.70,715.08 L353.89,715.92 L354.08,716.69 L354.26,717.42 L354.45,718.10 L354.64,718.73 L354.83,719.32 L355.02,719.87 L355.20,720.39 L355.39,720.87 L355.58,721.32 L355.77,721.74 L355.96,722.13 L356.14,722.50 L356.33,722.84 L356.52,723.16 L356.71,723.46 L356.90,723.74 L357.08,724.00 L357.27,724.24 L357.46,724.47 L357.65,724.68 L357.84,724.88 L358.02,725.07 L358.21,725.24 L358.40,725.40" fill="none" stroke="#AE0000" stroke-width="3.8" stroke-linejoin="bevel"/>
<path d="M516.40,725.40 L516.59,725.30 L516.78,725.19 L516.96,725.07 L517.15,724.94 L517.34,724.80 L517.53,724.66 L517.72,724.50 L517.90,724.33 L518.09,724.16 L518.28,723.96 L518.47,723.76 L518.66,723.54 L518.84,723.30 L519.03,723.05 L519.22,722.78 L519.41,722.49 L519.60,722.18 L519.78,721.85 L519.97,721.50 L520.16,721.12 L520.35,720.71 L520.54,720.28 L520.72,719.81 L520.91,719.31 L521.10,718.78 L521.29,718.21 L521.48,717.59 L521.66,716.94 L521.85,716.24 L522.04,715.48 L522.23,714.68 L522.42,713.82 L522.60,712.89 L522.79,711.90 L522.98,710.85 L523.17,709.71 L523.36,708.50 L523.54,707.20 L523.73,705.81 L523.92,704.32 L524.11,702.72 L524.30,701.02 L524.48,699.19 L524.67,697.23 L524.86,695.13 L525.05,692.89 L525.24,690.48 L525.42,687.91 L525.61,685.15 L525.80,682.20" fill="none" stroke="#1A2E78" stroke-width="3.8" stroke-dasharray="8.85,4.35" stroke-dashoffset="1.37"/>
<path d="M535.20,725.40 L535.01,725.30 L534.82,725.19 L534.64,725.07 L534.45,724.94 L534.26,724.80 L534.07,724.66 L533.88,724.50 L533.70,724.33 L533.51,724.16 L533.32,723.96 L533.13,723.76 L532.94,723.54 L532.76,723.30 L532.57,723.05 L532.38,722.78 L532.19,722.49 L532.00,722.18 L531.82,721.85 L531.63,721.50 L531.44,721.12 L531.25,720.71 L531.06,720.28 L530.88,719.81 L530.69,719.31 L530.50,718.78 L530.31,718.21 L530.12,717.59 L529.94,716.94 L529.75,716.24 L529.56,715.48 L529.37,714.68 L529.18,713.82 L529.00,712.89 L528.81,711.90 L528.62,710.85 L528.43,709.71 L528.24,708.50 L528.06,707.20 L527.87,705.81 L527.68,704.32 L527.49,702.72 L527.30,701.02 L527.12,699.19 L526.93,697.23 L526.74,695.13 L526.55,692.89 L526.36,690.48 L526.18,687.91 L525.99,685.15 L525.80,682.20" fill="none" stroke="#1A2E78" stroke-width="3.8" stroke-dasharray="8.85,4.35" stroke-dashoffset="1.37"/>
<path d="M537.90,725.40 L538.09,725.24 L538.28,725.07 L538.46,724.88 L538.65,724.68 L538.84,724.47 L539.03,724.24 L539.22,724.00 L539.40,723.74 L539.59,723.46 L539.78,723.16 L539.97,722.84 L540.16,722.50 L540.34,722.13 L540.53,721.74 L540.72,721.32 L540.91,720.87 L541.10,720.39 L541.28,719.87 L541.47,719.32 L541.66,718.73 L541.85,718.10 L542.04,717.42 L542.22,716.69 L542.41,715.92 L542.60,715.08 L542.79,714.19 L542.98,713.24 L543.16,712.22 L543.35,711.12 L543.54,709.95 L543.73,708.70 L543.92,707.35 L544.10,705.92 L544.29,704.38 L544.48,702.73 L544.67,700.96 L544.86,699.07 L545.04,697.05 L545.23,694.88 L545.42,692.56 L545.61,690.07 L545.80,687.41 L545.98,684.56 L546.17,681.51 L546.36,678.25 L546.55,674.75 L546.74,671.00 L546.92,666.99 L547.11,662.70 L547.30,658.10" fill="none" stroke="#1A2E78" stroke-width="3.8" stroke-dasharray="8.85,4.35" stroke-dashoffset="2.74"/>
<path d="M556.70,725.40 L556.51,725.24 L556.32,725.07 L556.14,724.88 L555.95,724.68 L555.76,724.47 L555.57,724.24 L555.38,724.00 L555.20,723.74 L555.01,723.46 L554.82,723.16 L554.63,722.84 L554.44,722.50 L554.26,722.13 L554.07,721.74 L553.88,721.32 L553.69,720.87 L553.50,720.39 L553.32,719.87 L553.13,719.32 L552.94,718.73 L552.75,718.10 L552.56,717.42 L552.38,716.69 L552.19,715.92 L552.00,715.08 L551.81,714.19 L551.62,713.24 L551.44,712.22 L551.25,711.12 L551.06,709.95 L550.87,708.70 L550.68,707.35 L550.50,705.92 L550.31,704.38 L550.12,702.73 L549.93,700.96 L549.74,699.07 L549.56,697.05 L549.37,694.88 L549.18,692.56 L548.99,690.07 L548.80,687.41 L548.62,684.56 L548.43,681.51 L548.24,678.25 L548.05,674.75 L547.86,671.00 L547.68,666.99 L547.49,662.70 L547.30,658.10" fill="none" stroke="#1A2E78" stroke-width="3.8" stroke-dasharray="8.85,4.35" stroke-dashoffset="2.74"/>
<path d="M559.60,725.40 L559.79,725.30 L559.98,725.19 L560.16,725.07 L560.35,724.94 L560.54,724.80 L560.73,724.66 L560.92,724.50 L561.10,724.33 L561.29,724.16 L561.48,723.96 L561.67,723.76 L561.86,723.54 L562.04,723.30 L562.23,723.05 L562.42,722.78 L562.61,722.49 L562.80,722.18 L562.98,721.85 L563.17,721.50 L563.36,721.12 L563.55,720.71 L563.74,720.28 L563.92,719.81 L564.11,719.31 L564.30,718.78 L564.49,718.21 L564.68,717.59 L564.86,716.94 L565.05,716.24 L565.24,715.48 L565.43,714.68 L565.62,713.82 L565.80,712.89 L565.99,711.90 L566.18,710.85 L566.37,709.71 L566.56,708.50 L566.74,707.20 L566.93,705.81 L567.12,704.32 L567.31,702.72 L567.50,701.02 L567.68,699.19 L567.87,697.23 L568.06,695.13 L568.25,692.89 L568.44,690.48 L568.62,687.91 L568.81,685.15 L569.00,682.20" fill="none" stroke="#1A2E78" stroke-width="3.8" stroke-dasharray="8.85,4.35" stroke-dashoffset="1.37"/>
<path d="M578.40,725.40 L578.21,725.30 L578.02,725.19 L577.84,725.07 L577.65,724.94 L577.46,724.80 L577.27,724.66 L577.08,724.50 L576.90,724.33 L576.71,724.16 L576.52,723.96 L576.33,723.76 L576.14,723.54 L575.96,723.30 L575.77,723.05 L575.58,722.78 L575.39,722.49 L575.20,722.18 L575.02,721.85 L574.83,721.50 L574.64,721.12 L574.45,720.71 L574.26,720.28 L574.08,719.81 L573.89,719.31 L573.70,718.78 L573.51,718.21 L573.32,717.59 L573.14,716.94 L572.95,716.24 L572.76,715.48 L572.57,714.68 L572.38,713.82 L572.20,712.89 L572.01,711.90 L571.82,710.85 L571.63,709.71 L571.44,708.50 L571.26,707.20 L571.07,705.81 L570.88,704.32 L570.69,702.72 L570.50,701.02 L570.32,699.19 L570.13,697.23 L569.94,695.13 L569.75,692.89 L569.56,690.48 L569.38,687.91 L569.19,685.15 L569.00,682.20" fill="none" stroke="#1A2E78" stroke-width="3.8" stroke-dasharray="8.85,4.35" stroke-dashoffset="1.37"/>
<line x1="75.50" y1="725.40" x2="638.00" y2="725.40" stroke="#000" stroke-width="3" />
<polygon points="658.60,725.40 630.60,717.05 637.00,725.40 630.60,733.75" fill="#000"/>
<polygon points="244.89,722.40 257.39,722.40 254.41,728.40 241.91,728.40" fill="#fff"/>
<line x1="237.90" y1="736.50" x2="248.90" y2="714.30" stroke="#000" stroke-width="3" stroke-linecap="round"/>
<line x1="250.40" y1="736.50" x2="261.40" y2="714.30" stroke="#000" stroke-width="3" stroke-linecap="round"/>
<polygon points="441.21,722.40 453.61,722.40 450.59,728.40 438.19,728.40" fill="#fff"/>
<line x1="434.10" y1="736.50" x2="445.30" y2="714.30" stroke="#000" stroke-width="3" stroke-linecap="round"/>
<line x1="446.50" y1="736.50" x2="457.70" y2="714.30" stroke="#000" stroke-width="3" stroke-linecap="round"/>
<line x1="134.30" y1="725.40" x2="134.30" y2="733.10" stroke="#000" stroke-width="2.4" />
<line x1="155.60" y1="725.40" x2="155.60" y2="733.10" stroke="#000" stroke-width="2.4" />
<line x1="177.10" y1="725.40" x2="177.10" y2="733.10" stroke="#000" stroke-width="2.4" />
<line x1="349.00" y1="725.40" x2="349.00" y2="733.10" stroke="#000" stroke-width="2.4" />
<line x1="525.80" y1="725.40" x2="525.80" y2="733.10" stroke="#000" stroke-width="2.4" />
<line x1="547.30" y1="725.40" x2="547.30" y2="733.10" stroke="#000" stroke-width="2.4" />
<line x1="569.00" y1="725.40" x2="569.00" y2="733.10" stroke="#000" stroke-width="2.4" />
<line x1="155.70" y1="615.90" x2="155.70" y2="649.70" stroke="#000" stroke-width="1.6" stroke-dasharray="4.4,1.5" stroke-dashoffset="1.5"/>
<line x1="177.20" y1="615.90" x2="177.20" y2="667.50" stroke="#000" stroke-width="1.6" stroke-dasharray="4.4,1.5" stroke-dashoffset="1.5"/>
<line x1="525.80" y1="615.90" x2="525.80" y2="667.50" stroke="#000" stroke-width="1.6" stroke-dasharray="4.4,1.5" stroke-dashoffset="1.5"/>
<line x1="547.30" y1="615.90" x2="547.30" y2="649.70" stroke="#000" stroke-width="1.6" stroke-dasharray="4.4,1.5" stroke-dashoffset="1.5"/>
<line x1="133.30" y1="632.70" x2="142.90" y2="632.70" stroke="#000" stroke-width="1.6" />
<polygon points="152.90,632.70 138.80,628.50 142.30,632.70 138.80,636.90" fill="#000"/>
<line x1="207.50" y1="632.70" x2="189.80" y2="632.70" stroke="#000" stroke-width="1.6" />
<polygon points="179.80,632.70 193.90,628.50 190.40,632.70 193.90,636.90" fill="#000"/>
<line x1="495.50" y1="632.70" x2="512.90" y2="632.70" stroke="#000" stroke-width="1.6" />
<polygon points="522.90,632.70 508.80,628.50 512.30,632.70 508.80,636.90" fill="#000"/>
<line x1="569.80" y1="632.70" x2="560.20" y2="632.70" stroke="#000" stroke-width="1.6" />
<polygon points="550.20,632.70 564.30,628.50 560.80,632.70 564.30,636.90" fill="#000"/>
<path d="M102.10,946.20 L102.29,946.10 L102.48,945.98 L102.66,945.86 L102.85,945.74 L103.04,945.60 L103.23,945.45 L103.42,945.29 L103.60,945.12 L103.79,944.94 L103.98,944.75 L104.17,944.54 L104.36,944.32 L104.54,944.08 L104.73,943.83 L104.92,943.56 L105.11,943.27 L105.30,942.95 L105.48,942.62 L105.67,942.26 L105.86,941.88 L106.05,941.47 L106.24,941.03 L106.42,940.56 L106.61,940.06 L106.80,939.52 L106.99,938.94 L107.18,938.32 L107.36,937.66 L107.55,936.95 L107.74,936.19 L107.93,935.38 L108.12,934.51 L108.30,933.58 L108.49,932.58 L108.68,931.51 L108.87,930.37 L109.06,929.14 L109.24,927.83 L109.43,926.43 L109.62,924.92 L109.81,923.31 L110.00,921.59 L110.18,919.74 L110.37,917.77 L110.56,915.65 L110.75,913.38 L110.94,910.96 L111.12,908.36 L111.31,905.58 L111.50,902.60 L111.69,905.58 L111.88,908.36 L112.06,910.96 L112.25,913.38 L112.44,915.65 L112.63,917.77 L112.82,919.74 L113.00,921.59 L113.19,923.31 L113.38,924.92 L113.57,926.43 L113.76,927.83 L113.94,929.14 L114.13,930.37 L114.32,931.51 L114.51,932.58 L114.70,933.58 L114.88,934.51 L115.07,935.38 L115.26,936.19 L115.45,936.95 L115.64,937.66 L115.82,938.32 L116.01,938.94 L116.20,939.52 L116.39,940.06 L116.58,940.56 L116.76,941.03 L116.95,941.47 L117.14,941.88 L117.33,942.26 L117.52,942.62 L117.70,942.95 L117.89,943.27 L118.08,943.56 L118.27,943.83 L118.46,944.08 L118.64,944.32 L118.83,944.54 L119.02,944.75 L119.21,944.94 L119.40,945.12 L119.58,945.29 L119.77,945.45 L119.96,945.60 L120.15,945.74 L120.34,945.86 L120.52,945.98 L120.71,946.10 L120.90,946.20" fill="none" stroke="#FDB21B" stroke-width="3.8" stroke-linejoin="bevel"/>
<path d="M146.50,946.20 L146.69,946.04 L146.88,945.87 L147.06,945.68 L147.25,945.49 L147.44,945.27 L147.63,945.05 L147.82,944.81 L148.00,944.55 L148.19,944.27 L148.38,943.97 L148.57,943.65 L148.76,943.31 L148.94,942.95 L149.13,942.56 L149.32,942.14 L149.51,941.69 L149.70,941.21 L149.88,940.70 L150.07,940.15 L150.26,939.56 L150.45,938.93 L150.64,938.26 L150.82,937.53 L151.01,936.76 L151.20,935.93 L151.39,935.04 L151.58,934.09 L151.76,933.08 L151.95,931.99 L152.14,930.82 L152.33,929.57 L152.52,928.23 L152.70,926.80 L152.89,925.27 L153.08,923.63 L153.27,921.87 L153.46,919.99 L153.64,917.97 L153.83,915.81 L154.02,913.50 L154.21,911.03 L154.40,908.38 L154.58,905.54 L154.77,902.51 L154.96,899.26 L155.15,895.77 L155.34,892.04 L155.52,888.05 L155.71,883.78 L155.90,879.20 L156.09,883.78 L156.28,888.05 L156.46,892.04 L156.65,895.77 L156.84,899.26 L157.03,902.51 L157.22,905.54 L157.40,908.38 L157.59,911.03 L157.78,913.50 L157.97,915.81 L158.16,917.97 L158.34,919.99 L158.53,921.87 L158.72,923.63 L158.91,925.27 L159.10,926.80 L159.28,928.23 L159.47,929.57 L159.66,930.82 L159.85,931.99 L160.04,933.08 L160.22,934.09 L160.41,935.04 L160.60,935.93 L160.79,936.76 L160.98,937.53 L161.16,938.26 L161.35,938.93 L161.54,939.56 L161.73,940.15 L161.92,940.70 L162.10,941.21 L162.29,941.69 L162.48,942.14 L162.67,942.56 L162.86,942.95 L163.04,943.31 L163.23,943.65 L163.42,943.97 L163.61,944.27 L163.80,944.55 L163.98,944.81 L164.17,945.05 L164.36,945.27 L164.55,945.49 L164.74,945.68 L164.92,945.87 L165.11,946.04 L165.30,946.20" fill="none" stroke="#FDB21B" stroke-width="3.8" stroke-linejoin="bevel"/>
<path d="M190.40,946.20 L190.59,946.10 L190.78,945.98 L190.96,945.86 L191.15,945.74 L191.34,945.60 L191.53,945.45 L191.72,945.29 L191.90,945.12 L192.09,944.94 L192.28,944.75 L192.47,944.54 L192.66,944.32 L192.84,944.08 L193.03,943.83 L193.22,943.56 L193.41,943.27 L193.60,942.95 L193.78,942.62 L193.97,942.26 L194.16,941.88 L194.35,941.47 L194.54,941.03 L194.72,940.56 L194.91,940.06 L195.10,939.52 L195.29,938.94 L195.48,938.32 L195.66,937.66 L195.85,936.95 L196.04,936.19 L196.23,935.38 L196.42,934.51 L196.60,933.58 L196.79,932.58 L196.98,931.51 L197.17,930.37 L197.36,929.14 L197.54,927.83 L197.73,926.43 L197.92,924.92 L198.11,923.31 L198.30,921.59 L198.48,919.74 L198.67,917.77 L198.86,915.65 L199.05,913.38 L199.24,910.96 L199.42,908.36 L199.61,905.58 L199.80,902.60 L199.99,905.58 L200.18,908.36 L200.36,910.96 L200.55,913.38 L200.74,915.65 L200.93,917.77 L201.12,919.74 L201.30,921.59 L201.49,923.31 L201.68,924.92 L201.87,926.43 L202.06,927.83 L202.24,929.14 L202.43,930.37 L202.62,931.51 L202.81,932.58 L203.00,933.58 L203.18,934.51 L203.37,935.38 L203.56,936.19 L203.75,936.95 L203.94,937.66 L204.12,938.32 L204.31,938.94 L204.50,939.52 L204.69,940.06 L204.88,940.56 L205.06,941.03 L205.25,941.47 L205.44,941.88 L205.63,942.26 L205.82,942.62 L206.00,942.95 L206.19,943.27 L206.38,943.56 L206.57,943.83 L206.76,944.08 L206.94,944.32 L207.13,944.54 L207.32,944.75 L207.51,944.94 L207.70,945.12 L207.88,945.29 L208.07,945.45 L208.26,945.60 L208.45,945.74 L208.64,945.86 L208.82,945.98 L209.01,946.10 L209.20,946.20" fill="none" stroke="#FDB21B" stroke-width="3.8" stroke-linejoin="bevel"/>
<path d="M295.60,946.20 L295.79,946.10 L295.98,945.98 L296.16,945.86 L296.35,945.74 L296.54,945.60 L296.73,945.45 L296.92,945.29 L297.10,945.12 L297.29,944.94 L297.48,944.75 L297.67,944.54 L297.86,944.32 L298.04,944.08 L298.23,943.83 L298.42,943.56 L298.61,943.27 L298.80,942.95 L298.98,942.62 L299.17,942.26 L299.36,941.88 L299.55,941.47 L299.74,941.03 L299.92,940.56 L300.11,940.06 L300.30,939.52 L300.49,938.94 L300.68,938.32 L300.86,937.66 L301.05,936.95 L301.24,936.19 L301.43,935.38 L301.62,934.51 L301.80,933.58 L301.99,932.58 L302.18,931.51 L302.37,930.37 L302.56,929.14 L302.74,927.83 L302.93,926.43 L303.12,924.92 L303.31,923.31 L303.50,921.59 L303.68,919.74 L303.87,917.77 L304.06,915.65 L304.25,913.38 L304.44,910.96 L304.62,908.36 L304.81,905.58 L305.00,902.60 L305.19,905.58 L305.38,908.36 L305.56,910.96 L305.75,913.38 L305.94,915.65 L306.13,917.77 L306.32,919.74 L306.50,921.59 L306.69,923.31 L306.88,924.92 L307.07,926.43 L307.26,927.83 L307.44,929.14 L307.63,930.37 L307.82,931.51 L308.01,932.58 L308.20,933.58 L308.38,934.51 L308.57,935.38 L308.76,936.19 L308.95,936.95 L309.14,937.66 L309.32,938.32 L309.51,938.94 L309.70,939.52 L309.89,940.06 L310.08,940.56 L310.26,941.03 L310.45,941.47 L310.64,941.88 L310.83,942.26 L311.02,942.62 L311.20,942.95 L311.39,943.27 L311.58,943.56 L311.77,943.83 L311.96,944.08 L312.14,944.32 L312.33,944.54 L312.52,944.75 L312.71,944.94 L312.90,945.12 L313.08,945.29 L313.27,945.45 L313.46,945.60 L313.65,945.74 L313.84,945.86 L314.02,945.98 L314.21,946.10 L314.40,946.20" fill="none" stroke="#AE0000" stroke-width="3.8" stroke-linejoin="bevel"/>
<path d="M339.30,946.20 L339.49,946.04 L339.68,945.87 L339.86,945.68 L340.05,945.49 L340.24,945.27 L340.43,945.05 L340.62,944.81 L340.80,944.55 L340.99,944.27 L341.18,943.97 L341.37,943.65 L341.56,943.31 L341.74,942.95 L341.93,942.56 L342.12,942.14 L342.31,941.69 L342.50,941.21 L342.68,940.70 L342.87,940.15 L343.06,939.56 L343.25,938.93 L343.44,938.26 L343.62,937.53 L343.81,936.76 L344.00,935.93 L344.19,935.04 L344.38,934.09 L344.56,933.08 L344.75,931.99 L344.94,930.82 L345.13,929.57 L345.32,928.23 L345.50,926.80 L345.69,925.27 L345.88,923.63 L346.07,921.87 L346.26,919.99 L346.44,917.97 L346.63,915.81 L346.82,913.50 L347.01,911.03 L347.20,908.38 L347.38,905.54 L347.57,902.51 L347.76,899.26 L347.95,895.77 L348.14,892.04 L348.32,888.05 L348.51,883.78 L348.70,879.20 L348.89,883.78 L349.08,888.05 L349.26,892.04 L349.45,895.77 L349.64,899.26 L349.83,902.51 L350.02,905.54 L350.20,908.38 L350.39,911.03 L350.58,913.50 L350.77,915.81 L350.96,917.97 L351.14,919.99 L351.33,921.87 L351.52,923.63 L351.71,925.27 L351.90,926.80 L352.08,928.23 L352.27,929.57 L352.46,930.82 L352.65,931.99 L352.84,933.08 L353.02,934.09 L353.21,935.04 L353.40,935.93 L353.59,936.76 L353.78,937.53 L353.96,938.26 L354.15,938.93 L354.34,939.56 L354.53,940.15 L354.72,940.70 L354.90,941.21 L355.09,941.69 L355.28,942.14 L355.47,942.56 L355.66,942.95 L355.84,943.31 L356.03,943.65 L356.22,943.97 L356.41,944.27 L356.60,944.55 L356.78,944.81 L356.97,945.05 L357.16,945.27 L357.35,945.49 L357.54,945.68 L357.72,945.87 L357.91,946.04 L358.10,946.20" fill="none" stroke="#AE0000" stroke-width="3.8" stroke-linejoin="bevel"/>
<path d="M383.90,946.20 L384.09,946.10 L384.28,945.98 L384.46,945.86 L384.65,945.74 L384.84,945.60 L385.03,945.45 L385.22,945.29 L385.40,945.12 L385.59,944.94 L385.78,944.75 L385.97,944.54 L386.16,944.32 L386.34,944.08 L386.53,943.83 L386.72,943.56 L386.91,943.27 L387.10,942.95 L387.28,942.62 L387.47,942.26 L387.66,941.88 L387.85,941.47 L388.04,941.03 L388.22,940.56 L388.41,940.06 L388.60,939.52 L388.79,938.94 L388.98,938.32 L389.16,937.66 L389.35,936.95 L389.54,936.19 L389.73,935.38 L389.92,934.51 L390.10,933.58 L390.29,932.58 L390.48,931.51 L390.67,930.37 L390.86,929.14 L391.04,927.83 L391.23,926.43 L391.42,924.92 L391.61,923.31 L391.80,921.59 L391.98,919.74 L392.17,917.77 L392.36,915.65 L392.55,913.38 L392.74,910.96 L392.92,908.36 L393.11,905.58 L393.30,902.60 L393.49,905.58 L393.68,908.36 L393.86,910.96 L394.05,913.38 L394.24,915.65 L394.43,917.77 L394.62,919.74 L394.80,921.59 L394.99,923.31 L395.18,924.92 L395.37,926.43 L395.56,927.83 L395.74,929.14 L395.93,930.37 L396.12,931.51 L396.31,932.58 L396.50,933.58 L396.68,934.51 L396.87,935.38 L397.06,936.19 L397.25,936.95 L397.44,937.66 L397.62,938.32 L397.81,938.94 L398.00,939.52 L398.19,940.06 L398.38,940.56 L398.56,941.03 L398.75,941.47 L398.94,941.88 L399.13,942.26 L399.32,942.62 L399.50,942.95 L399.69,943.27 L399.88,943.56 L400.07,943.83 L400.26,944.08 L400.44,944.32 L400.63,944.54 L400.82,944.75 L401.01,944.94 L401.20,945.12 L401.38,945.29 L401.57,945.45 L401.76,945.60 L401.95,945.74 L402.14,945.86 L402.32,945.98 L402.51,946.10 L402.70,946.20" fill="none" stroke="#AE0000" stroke-width="3.8" stroke-linejoin="bevel"/>
<path d="M494.00,946.20 L494.19,946.10 L494.38,945.98 L494.56,945.86 L494.75,945.74 L494.94,945.60 L495.13,945.45 L495.32,945.29 L495.50,945.12 L495.69,944.94 L495.88,944.75 L496.07,944.54 L496.26,944.32 L496.44,944.08 L496.63,943.83 L496.82,943.56 L497.01,943.27 L497.20,942.95 L497.38,942.62 L497.57,942.26 L497.76,941.88 L497.95,941.47 L498.14,941.03 L498.32,940.56 L498.51,940.06 L498.70,939.52 L498.89,938.94 L499.08,938.32 L499.26,937.66 L499.45,936.95 L499.64,936.19 L499.83,935.38 L500.02,934.51 L500.20,933.58 L500.39,932.58 L500.58,931.51 L500.77,930.37 L500.96,929.14 L501.14,927.83 L501.33,926.43 L501.52,924.92 L501.71,923.31 L501.90,921.59 L502.08,919.74 L502.27,917.77 L502.46,915.65 L502.65,913.38 L502.84,910.96 L503.02,908.36 L503.21,905.58 L503.40,902.60" fill="none" stroke="#8DB92F" stroke-width="3.8" stroke-dasharray="8.85,4.35" stroke-dashoffset="1.37"/>
<path d="M512.80,946.20 L512.61,946.10 L512.42,945.98 L512.24,945.86 L512.05,945.74 L511.86,945.60 L511.67,945.45 L511.48,945.29 L511.30,945.12 L511.11,944.94 L510.92,944.75 L510.73,944.54 L510.54,944.32 L510.36,944.08 L510.17,943.83 L509.98,943.56 L509.79,943.27 L509.60,942.95 L509.42,942.62 L509.23,942.26 L509.04,941.88 L508.85,941.47 L508.66,941.03 L508.48,940.56 L508.29,940.06 L508.10,939.52 L507.91,938.94 L507.72,938.32 L507.54,937.66 L507.35,936.95 L507.16,936.19 L506.97,935.38 L506.78,934.51 L506.60,933.58 L506.41,932.58 L506.22,931.51 L506.03,930.37 L505.84,929.14 L505.66,927.83 L505.47,926.43 L505.28,924.92 L505.09,923.31 L504.90,921.59 L504.72,919.74 L504.53,917.77 L504.34,915.65 L504.15,913.38 L503.96,910.96 L503.78,908.36 L503.59,905.58 L503.40,902.60" fill="none" stroke="#8DB92F" stroke-width="3.8" stroke-dasharray="8.85,4.35" stroke-dashoffset="1.37"/>
<path d="M537.50,946.20 L537.69,946.04 L537.88,945.87 L538.06,945.68 L538.25,945.49 L538.44,945.27 L538.63,945.05 L538.82,944.81 L539.00,944.55 L539.19,944.27 L539.38,943.97 L539.57,943.65 L539.76,943.31 L539.94,942.95 L540.13,942.56 L540.32,942.14 L540.51,941.69 L540.70,941.21 L540.88,940.70 L541.07,940.15 L541.26,939.56 L541.45,938.93 L541.64,938.26 L541.82,937.53 L542.01,936.76 L542.20,935.93 L542.39,935.04 L542.58,934.09 L542.76,933.08 L542.95,931.99 L543.14,930.82 L543.33,929.57 L543.52,928.23 L543.70,926.80 L543.89,925.27 L544.08,923.63 L544.27,921.87 L544.46,919.99 L544.64,917.97 L544.83,915.81 L545.02,913.50 L545.21,911.03 L545.40,908.38 L545.58,905.54 L545.77,902.51 L545.96,899.26 L546.15,895.77 L546.34,892.04 L546.52,888.05 L546.71,883.78 L546.90,879.20" fill="none" stroke="#1A2E78" stroke-width="3.8" stroke-dasharray="8.85,4.35" stroke-dashoffset="2.74"/>
<path d="M556.30,946.20 L556.11,946.04 L555.92,945.87 L555.74,945.68 L555.55,945.49 L555.36,945.27 L555.17,945.05 L554.98,944.81 L554.80,944.55 L554.61,944.27 L554.42,943.97 L554.23,943.65 L554.04,943.31 L553.86,942.95 L553.67,942.56 L553.48,942.14 L553.29,941.69 L553.10,941.21 L552.92,940.70 L552.73,940.15 L552.54,939.56 L552.35,938.93 L552.16,938.26 L551.98,937.53 L551.79,936.76 L551.60,935.93 L551.41,935.04 L551.22,934.09 L551.04,933.08 L550.85,931.99 L550.66,930.82 L550.47,929.57 L550.28,928.23 L550.10,926.80 L549.91,925.27 L549.72,923.63 L549.53,921.87 L549.34,919.99 L549.16,917.97 L548.97,915.81 L548.78,913.50 L548.59,911.03 L548.40,908.38 L548.22,905.54 L548.03,902.51 L547.84,899.26 L547.65,895.77 L547.46,892.04 L547.28,888.05 L547.09,883.78 L546.90,879.20" fill="none" stroke="#1A2E78" stroke-width="3.8" stroke-dasharray="8.85,4.35" stroke-dashoffset="2.74"/>
<path d="M581.60,946.20 L581.79,946.10 L581.98,945.98 L582.16,945.86 L582.35,945.74 L582.54,945.60 L582.73,945.45 L582.92,945.29 L583.10,945.12 L583.29,944.94 L583.48,944.75 L583.67,944.54 L583.86,944.32 L584.04,944.08 L584.23,943.83 L584.42,943.56 L584.61,943.27 L584.80,942.95 L584.98,942.62 L585.17,942.26 L585.36,941.88 L585.55,941.47 L585.74,941.03 L585.92,940.56 L586.11,940.06 L586.30,939.52 L586.49,938.94 L586.68,938.32 L586.86,937.66 L587.05,936.95 L587.24,936.19 L587.43,935.38 L587.62,934.51 L587.80,933.58 L587.99,932.58 L588.18,931.51 L588.37,930.37 L588.56,929.14 L588.74,927.83 L588.93,926.43 L589.12,924.92 L589.31,923.31 L589.50,921.59 L589.68,919.74 L589.87,917.77 L590.06,915.65 L590.25,913.38 L590.44,910.96 L590.62,908.36 L590.81,905.58 L591.00,902.60" fill="none" stroke="#FF6D1F" stroke-width="3.8" stroke-dasharray="8.85,4.35" stroke-dashoffset="1.37"/>
<path d="M600.40,946.20 L600.21,946.10 L600.02,945.98 L599.84,945.86 L599.65,945.74 L599.46,945.60 L599.27,945.45 L599.08,945.29 L598.90,945.12 L598.71,944.94 L598.52,944.75 L598.33,944.54 L598.14,944.32 L597.96,944.08 L597.77,943.83 L597.58,943.56 L597.39,943.27 L597.20,942.95 L597.02,942.62 L596.83,942.26 L596.64,941.88 L596.45,941.47 L596.26,941.03 L596.08,940.56 L595.89,940.06 L595.70,939.52 L595.51,938.94 L595.32,938.32 L595.14,937.66 L594.95,936.95 L594.76,936.19 L594.57,935.38 L594.38,934.51 L594.20,933.58 L594.01,932.58 L593.82,931.51 L593.63,930.37 L593.44,929.14 L593.26,927.83 L593.07,926.43 L592.88,924.92 L592.69,923.31 L592.50,921.59 L592.32,919.74 L592.13,917.77 L591.94,915.65 L591.75,913.38 L591.56,910.96 L591.38,908.36 L591.19,905.58 L591.00,902.60" fill="none" stroke="#FF6D1F" stroke-width="3.8" stroke-dasharray="8.85,4.35" stroke-dashoffset="1.37"/>
<line x1="75.50" y1="946.20" x2="638.00" y2="946.20" stroke="#000" stroke-width="3" />
<polygon points="658.60,946.20 630.60,937.85 637.00,946.20 630.60,954.55" fill="#000"/>
<polygon points="244.16,943.15 256.96,943.15 254.14,949.15 241.34,949.15" fill="#fff"/>
<line x1="237.50" y1="957.30" x2="248.00" y2="935.00" stroke="#000" stroke-width="3" stroke-linecap="round"/>
<line x1="250.30" y1="957.30" x2="260.80" y2="935.00" stroke="#000" stroke-width="3" stroke-linecap="round"/>
<polygon points="442.38,943.05 455.28,943.05 452.42,949.05 439.52,949.05" fill="#fff"/>
<line x1="435.60" y1="957.30" x2="446.30" y2="934.80" stroke="#000" stroke-width="3" stroke-linecap="round"/>
<line x1="448.50" y1="957.30" x2="459.20" y2="934.80" stroke="#000" stroke-width="3" stroke-linecap="round"/>
<line x1="111.50" y1="946.20" x2="111.50" y2="954.20" stroke="#000" stroke-width="2.4" />
<line x1="155.90" y1="946.20" x2="155.90" y2="954.20" stroke="#000" stroke-width="2.4" />
<line x1="199.80" y1="946.20" x2="199.80" y2="954.20" stroke="#000" stroke-width="2.4" />
<line x1="305.00" y1="946.20" x2="305.00" y2="954.20" stroke="#000" stroke-width="2.4" />
<line x1="348.70" y1="946.20" x2="348.70" y2="954.20" stroke="#000" stroke-width="2.4" />
<line x1="393.30" y1="946.20" x2="393.30" y2="954.20" stroke="#000" stroke-width="2.4" />
<line x1="503.40" y1="946.20" x2="503.40" y2="954.20" stroke="#000" stroke-width="2.4" />
<line x1="546.90" y1="946.20" x2="546.90" y2="954.20" stroke="#000" stroke-width="2.4" />
<line x1="591.00" y1="946.20" x2="591.00" y2="954.20" stroke="#000" stroke-width="2.4" />
<polygon points="111.50,879.90 119.70,893.90 103.30,893.90" fill="#FDB21B"/>
<circle cx="155.90" cy="861.90" r="8.2" fill="#FDB21B"/>
<rect x="191.60" y="877.60" width="16.80" height="16.30" fill="#FDB21B"/>
<polygon points="305.00,879.90 313.20,893.90 296.80,893.90" fill="#AE0000"/>
<circle cx="348.70" cy="862.00" r="8.2" fill="#AE0000"/>
<rect x="385.00" y="877.70" width="16.60" height="16.30" fill="#AE0000"/>
<line x1="155.90" y1="811.70" x2="155.90" y2="844.40" stroke="#000" stroke-width="1.6" stroke-dasharray="4.4,1.5" stroke-dashoffset="1.5"/>
<line x1="199.80" y1="811.70" x2="199.80" y2="862.60" stroke="#000" stroke-width="1.6" stroke-dasharray="4.4,1.5" stroke-dashoffset="1.5"/>
<line x1="305.00" y1="811.70" x2="305.00" y2="862.60" stroke="#000" stroke-width="1.6" stroke-dasharray="4.4,1.5" stroke-dashoffset="1.5"/>
<line x1="348.70" y1="811.70" x2="348.70" y2="845.00" stroke="#000" stroke-width="1.6" stroke-dasharray="4.4,1.5" stroke-dashoffset="1.5"/>
<line x1="133.20" y1="828.50" x2="143.20" y2="828.50" stroke="#000" stroke-width="1.6" />
<polygon points="153.20,828.50 139.10,824.30 142.60,828.50 139.10,832.70" fill="#000"/>
<line x1="220.80" y1="828.50" x2="212.50" y2="828.50" stroke="#000" stroke-width="1.6" />
<polygon points="202.50,828.50 216.60,824.30 213.10,828.50 216.60,832.70" fill="#000"/>
<line x1="281.90" y1="828.50" x2="292.30" y2="828.50" stroke="#000" stroke-width="1.6" />
<polygon points="302.30,828.50 288.20,824.30 291.70,828.50 288.20,832.70" fill="#000"/>
<line x1="371.80" y1="828.50" x2="361.40" y2="828.50" stroke="#000" stroke-width="1.6" />
<polygon points="351.40,828.50 365.50,824.30 362.00,828.50 365.50,832.70" fill="#000"/>
<rect x="227.70" y="833.08" width="13.60" height="1.25" fill="#000"/>
<rect x="227.70" y="837.67" width="13.60" height="1.25" fill="#000"/>
<polygon points="491.30,848.90 499.55,862.90 483.05,862.90" fill="#FDB21B"/>
<circle cx="515.30" cy="855.90" r="8.3" fill="#AE0000"/>
<polygon points="491.30,877.80 499.55,891.80 483.05,891.80" fill="#AE0000"/>
<circle cx="515.30" cy="884.80" r="8.3" fill="#FDB21B"/>
<circle cx="578.70" cy="855.60" r="8.2" fill="#AE0000"/>
<rect x="596.10" y="847.50" width="16.70" height="16.20" fill="#FDB21B"/>
<circle cx="578.70" cy="884.70" r="8.2" fill="#FDB21B"/>
<rect x="596.10" y="876.60" width="16.70" height="16.20" fill="#AE0000"/>
<path d="M127.90,1112.95 L128.75,1112.09 L129.59,1111.24 L130.44,1110.39 L131.28,1109.53 L132.12,1108.68 L132.97,1107.82 L133.81,1106.97 L134.66,1106.12 L135.50,1105.27 L136.35,1104.42 L137.19,1103.57 L138.04,1102.72 L138.89,1101.87 L139.73,1101.02 L140.58,1100.18 L141.42,1099.33 L142.27,1098.49 L143.11,1097.65 L143.96,1096.81 L144.80,1095.97 L145.65,1095.14 L146.49,1094.31 L147.34,1093.47 L148.18,1092.64 L149.03,1091.82 L149.87,1090.99 L150.72,1090.17 L151.56,1089.35 L152.41,1088.53 L153.25,1087.72 L154.09,1086.91 L154.94,1086.10 L155.78,1085.29 L156.63,1084.49 L157.47,1083.69 L158.32,1082.89 L159.17,1082.10 L160.01,1081.31 L160.86,1080.52 L161.70,1079.74 L162.55,1078.96 L163.39,1078.19 L164.24,1077.41 L165.08,1076.65 L165.93,1075.88 L166.77,1075.12 L167.62,1074.37 L168.46,1073.61 L169.31,1072.87 L170.15,1072.12 L171.00,1071.39 L171.84,1070.65 L172.69,1069.92 L173.53,1069.20 L174.38,1068.48 L175.22,1067.77 L176.06,1067.06 L176.91,1066.35 L177.75,1065.65 L178.60,1064.96 L179.44,1064.27 L180.29,1063.58 L181.14,1062.91 L181.98,1062.23 L182.83,1061.57 L183.67,1060.90 L184.52,1060.25 L185.36,1059.60 L186.21,1058.95 L187.05,1058.32 L187.90,1057.68 L188.74,1057.06 L189.59,1056.44 L190.43,1055.82 L191.28,1055.21 L192.12,1054.61 L192.97,1054.02 L193.81,1053.43 L194.66,1052.85 L195.50,1052.27 L196.35,1051.70 L197.19,1051.14 L198.04,1050.59 L198.88,1050.04 L199.73,1049.50 L200.57,1048.96 L201.42,1048.43 L202.26,1047.91 L203.11,1047.40 L203.95,1046.89 L204.80,1046.39 L205.64,1045.90 L206.49,1045.42 L207.33,1044.94 L208.18,1044.47 L209.02,1044.01 L209.87,1043.56 L210.71,1043.11 L211.56,1042.67 L212.40,1042.24 L213.25,1041.82 L214.09,1041.40 L214.94,1040.99 L215.78,1040.59 L216.62,1040.20 L217.47,1039.82 L218.31,1039.44 L219.16,1039.07 L220.00,1038.71 L220.85,1038.36 L221.70,1038.02 L222.54,1037.68 L223.38,1037.35 L224.23,1037.03 L225.08,1036.72 L225.92,1036.42 L226.77,1036.13 L227.61,1035.84 L228.46,1035.56 L229.30,1035.30 L230.15,1035.04 L230.99,1034.78 L231.84,1034.54 L232.68,1034.31 L233.53,1034.08 L234.37,1033.87 L235.22,1033.66 L236.06,1033.46 L236.91,1033.27 L237.75,1033.08 L238.60,1032.91 L239.44,1032.75 L240.29,1032.59 L241.13,1032.44 L241.98,1032.31 L242.82,1032.18 L243.67,1032.06 L244.51,1031.94 L245.36,1031.84 L246.20,1031.75 L247.05,1031.66 L247.89,1031.59 L248.74,1031.52 L249.58,1031.46 L250.43,1031.41 L251.27,1031.37 L252.12,1031.34 L252.96,1031.32 L253.81,1031.30 L254.65,1031.30 L255.50,1031.30 L256.34,1031.32 L257.19,1031.34 L258.03,1031.37 L258.88,1031.41 L259.72,1031.46 L260.56,1031.52 L261.41,1031.59 L262.25,1031.66 L263.10,1031.75 L263.95,1031.84 L264.79,1031.94 L265.63,1032.06 L266.48,1032.18 L267.32,1032.31 L268.17,1032.44 L269.01,1032.59 L269.86,1032.75 L270.71,1032.91 L271.55,1033.08 L272.39,1033.27 L273.24,1033.46 L274.09,1033.66 L274.93,1033.87 L275.77,1034.08 L276.62,1034.31 L277.47,1034.54 L278.31,1034.78 L279.16,1035.04 L280.00,1035.30 L280.85,1035.56 L281.69,1035.84 L282.54,1036.13 L283.38,1036.42 L284.23,1036.72 L285.07,1037.03 L285.92,1037.35 L286.76,1037.68 L287.61,1038.02 L288.45,1038.36 L289.30,1038.71 L290.14,1039.07 L290.99,1039.44 L291.83,1039.82 L292.68,1040.20 L293.52,1040.59 L294.37,1040.99 L295.21,1041.40 L296.06,1041.82 L296.90,1042.24 L297.75,1042.67 L298.59,1043.11 L299.44,1043.56 L300.28,1044.01 L301.12,1044.47 L301.97,1044.94 L302.81,1045.42 L303.66,1045.90 L304.50,1046.39 L305.35,1046.89 L306.20,1047.40 L307.04,1047.91 L307.88,1048.43 L308.73,1048.96 L309.58,1049.50 L310.42,1050.04 L311.26,1050.59 L312.11,1051.14 L312.96,1051.70 L313.80,1052.27 L314.64,1052.85 L315.49,1053.43 L316.34,1054.02 L317.18,1054.61 L318.02,1055.21 L318.87,1055.82 L319.72,1056.44 L320.56,1057.06 L321.40,1057.68 L322.25,1058.32 L323.10,1058.95 L323.94,1059.60 L324.79,1060.25 L325.63,1060.90 L326.48,1061.57 L327.32,1062.23 L328.16,1062.91 L329.01,1063.58 L329.86,1064.27 L330.70,1064.96 L331.55,1065.65 L332.39,1066.35 L333.24,1067.06 L334.08,1067.77 L334.93,1068.48 L335.77,1069.20 L336.62,1069.92 L337.46,1070.65 L338.31,1071.39 L339.15,1072.12 L340.00,1072.87 L340.84,1073.61 L341.69,1074.37 L342.53,1075.12 L343.38,1075.88 L344.22,1076.65 L345.07,1077.41 L345.91,1078.19 L346.75,1078.96 L347.60,1079.74 L348.44,1080.52 L349.29,1081.31 L350.13,1082.10 L350.98,1082.89 L351.83,1083.69 L352.67,1084.49 L353.52,1085.29 L354.36,1086.10 L355.21,1086.91 L356.05,1087.72 L356.89,1088.53 L357.74,1089.35 L358.59,1090.17 L359.43,1090.99 L360.28,1091.82 L361.12,1092.64 L361.97,1093.47 L362.81,1094.31 L363.66,1095.14 L364.50,1095.97 L365.35,1096.81 L366.19,1097.65 L367.04,1098.49 L367.88,1099.33 L368.73,1100.18 L369.57,1101.02 L370.42,1101.87 L371.26,1102.72 L372.11,1103.57 L372.95,1104.42 L373.80,1105.27 L374.64,1106.12 L375.49,1106.97 L376.33,1107.82 L377.18,1108.68 L378.02,1109.53 L378.87,1110.39 L379.71,1111.24 L380.56,1112.09 L381.40,1112.95 L382.25,1113.81 L383.09,1114.66 L383.94,1115.51 L384.78,1116.37 L385.62,1117.22 L386.47,1118.08 L387.32,1118.93 L388.16,1119.78 L389.00,1120.63 L389.85,1121.48 L390.70,1122.33 L391.54,1123.18 L392.38,1124.03 L393.23,1124.88 L394.08,1125.72 L394.92,1126.57 L395.76,1127.41 L396.61,1128.25 L397.46,1129.09 L398.30,1129.93 L399.14,1130.76 L399.99,1131.59 L400.84,1132.43 L401.68,1133.26 L402.52,1134.08 L403.37,1134.91 L404.22,1135.73 L405.06,1136.55 L405.91,1137.37 L406.75,1138.18 L407.60,1138.99 L408.44,1139.80 L409.28,1140.61 L410.13,1141.41 L410.98,1142.21 L411.82,1143.01 L412.66,1143.80 L413.51,1144.59 L414.36,1145.38 L415.20,1146.16 L416.04,1146.94 L416.89,1147.71 L417.74,1148.49 L418.58,1149.25 L419.43,1150.02 L420.27,1150.78 L421.12,1151.53 L421.96,1152.29 L422.81,1153.03 L423.65,1153.77 L424.50,1154.51 L425.34,1155.25 L426.19,1155.98 L427.03,1156.70 L427.88,1157.42 L428.72,1158.13 L429.57,1158.84 L430.41,1159.55 L431.25,1160.25 L432.10,1160.94 L432.95,1161.63 L433.79,1162.32 L434.64,1162.99 L435.48,1163.67 L436.33,1164.33 L437.17,1165.00 L438.02,1165.65 L438.86,1166.30 L439.71,1166.95 L440.55,1167.58 L441.39,1168.22 L442.24,1168.84 L443.09,1169.46 L443.93,1170.08 L444.77,1170.69 L445.62,1171.29 L446.47,1171.88 L447.31,1172.47 L448.15,1173.05 L449.00,1173.63 L449.85,1174.20 L450.69,1174.76 L451.53,1175.31 L452.38,1175.86 L453.23,1176.40 L454.07,1176.94 L454.92,1177.47 L455.76,1177.99 L456.61,1178.50 L457.45,1179.01 L458.30,1179.51 L459.14,1180.00 L459.99,1180.48 L460.83,1180.96 L461.68,1181.43 L462.52,1181.89 L463.37,1182.34 L464.21,1182.79 L465.05,1183.23 L465.90,1183.66 L466.75,1184.08 L467.59,1184.50 L468.43,1184.91 L469.28,1185.31 L470.12,1185.70 L470.97,1186.08 L471.82,1186.46 L472.66,1186.83 L473.50,1187.19 L474.35,1187.54 L475.20,1187.88 L476.04,1188.22 L476.88,1188.55 L477.73,1188.87 L478.58,1189.18 L479.42,1189.48 L480.27,1189.77 L481.11,1190.06 L481.96,1190.34 L482.80,1190.60 L483.65,1190.86 L484.49,1191.12 L485.34,1191.36 L486.18,1191.59 L487.02,1191.82 L487.87,1192.03 L488.72,1192.24 L489.56,1192.44 L490.41,1192.63 L491.25,1192.82 L492.10,1192.99 L492.94,1193.15 L493.79,1193.31 L494.63,1193.46 L495.48,1193.59 L496.32,1193.72 L497.16,1193.84 L498.01,1193.96 L498.86,1194.06 L499.70,1194.15 L500.54,1194.24 L501.39,1194.31 L502.24,1194.38 L503.08,1194.44 L503.92,1194.49 L504.77,1194.53 L505.62,1194.56 L506.46,1194.58 L507.31,1194.60 L508.15,1194.60 L509.00,1194.60 L509.84,1194.58 L510.69,1194.56 L511.53,1194.53 L512.38,1194.49 L513.22,1194.44 L514.07,1194.38 L514.91,1194.31 L515.76,1194.24 L516.60,1194.15 L517.45,1194.06 L518.29,1193.96 L519.13,1193.84 L519.98,1193.72 L520.83,1193.59 L521.67,1193.46 L522.51,1193.31 L523.36,1193.15 L524.21,1192.99 L525.05,1192.82 L525.90,1192.63 L526.74,1192.44 L527.59,1192.24 L528.43,1192.03 L529.28,1191.82 L530.12,1191.59 L530.97,1191.36 L531.81,1191.12 L532.65,1190.86 L533.50,1190.60 L534.35,1190.34 L535.19,1190.06 L536.03,1189.77 L536.88,1189.48 L537.73,1189.18 L538.57,1188.87 L539.42,1188.55 L540.26,1188.22 L541.11,1187.88 L541.95,1187.54 L542.80,1187.19 L543.64,1186.83 L544.49,1186.46 L545.33,1186.08 L546.18,1185.70 L547.02,1185.31 L547.87,1184.91 L548.71,1184.50 L549.56,1184.08 L550.40,1183.66 L551.25,1183.23 L552.09,1182.79 L552.94,1182.34 L553.78,1181.89 L554.62,1181.43 L555.47,1180.96 L556.32,1180.48 L557.16,1180.00 L558.00,1179.51 L558.85,1179.01 L559.69,1178.50 L560.54,1177.99 L561.39,1177.47 L562.23,1176.94 L563.08,1176.40 L563.92,1175.86 L564.76,1175.31 L565.61,1174.76 L566.46,1174.20 L567.30,1173.63 L568.14,1173.05 L568.99,1172.47 L569.84,1171.88 L570.68,1171.29 L571.53,1170.69 L572.37,1170.08 L573.22,1169.46 L574.06,1168.84 L574.91,1168.22 L575.75,1167.58 L576.60,1166.95 L577.44,1166.30 L578.28,1165.65 L579.13,1165.00 L579.98,1164.33 L580.82,1163.67 L581.67,1162.99 L582.51,1162.32 L583.36,1161.63 L584.20,1160.94 L585.05,1160.25 L585.89,1159.55 L586.74,1158.84 L587.58,1158.13 L588.43,1157.42 L589.27,1156.70 L590.12,1155.98 L590.96,1155.25 L591.80,1154.51 L592.65,1153.77 L593.50,1153.03 L594.34,1152.29 L595.18,1151.53 L596.03,1150.78 L596.88,1150.02 L597.72,1149.25 L598.57,1148.49 L599.41,1147.71 L600.25,1146.94 L601.10,1146.16 L601.95,1145.38 L602.79,1144.59 L603.64,1143.80 L604.48,1143.01 L605.33,1142.21 L606.17,1141.41 L607.02,1140.61 L607.86,1139.80 L608.71,1138.99 L609.55,1138.18 L610.40,1137.37 L611.24,1136.55 L612.09,1135.73 L612.93,1134.91 L613.77,1134.08 L614.62,1133.26 L615.47,1132.43 L616.31,1131.59 L617.16,1130.76 L618.00,1129.93 L618.85,1129.09 L619.69,1128.25 L620.54,1127.41 L621.38,1126.57 L622.23,1125.72 L623.07,1124.88 L623.91,1124.03 L624.76,1123.18 L625.61,1122.33 L626.45,1121.48 L627.29,1120.63 L628.14,1119.78 L628.99,1118.93 L629.83,1118.08 L630.68,1117.22 L631.52,1116.37 L632.37,1115.51 L633.21,1114.66 L634.06,1113.81 L634.90,1112.95" fill="none" stroke="#FF6D1F" stroke-width="4.5" />
<path d="M127.90,1112.95 L128.75,1113.81 L129.59,1114.66 L130.44,1115.51 L131.28,1116.37 L132.12,1117.22 L132.97,1118.08 L133.81,1118.93 L134.66,1119.78 L135.50,1120.63 L136.35,1121.48 L137.19,1122.33 L138.04,1123.18 L138.89,1124.03 L139.73,1124.88 L140.58,1125.72 L141.42,1126.57 L142.27,1127.41 L143.11,1128.25 L143.96,1129.09 L144.80,1129.93 L145.65,1130.76 L146.49,1131.59 L147.34,1132.43 L148.18,1133.26 L149.03,1134.08 L149.87,1134.91 L150.72,1135.73 L151.56,1136.55 L152.41,1137.37 L153.25,1138.18 L154.09,1138.99 L154.94,1139.80 L155.78,1140.61 L156.63,1141.41 L157.47,1142.21 L158.32,1143.01 L159.17,1143.80 L160.01,1144.59 L160.86,1145.38 L161.70,1146.16 L162.55,1146.94 L163.39,1147.71 L164.24,1148.49 L165.08,1149.25 L165.93,1150.02 L166.77,1150.78 L167.62,1151.53 L168.46,1152.29 L169.31,1153.03 L170.15,1153.77 L171.00,1154.51 L171.84,1155.25 L172.69,1155.98 L173.53,1156.70 L174.38,1157.42 L175.22,1158.13 L176.06,1158.84 L176.91,1159.55 L177.75,1160.25 L178.60,1160.94 L179.44,1161.63 L180.29,1162.32 L181.14,1162.99 L181.98,1163.67 L182.83,1164.33 L183.67,1165.00 L184.52,1165.65 L185.36,1166.30 L186.21,1166.95 L187.05,1167.58 L187.90,1168.22 L188.74,1168.84 L189.59,1169.46 L190.43,1170.08 L191.28,1170.69 L192.12,1171.29 L192.97,1171.88 L193.81,1172.47 L194.66,1173.05 L195.50,1173.63 L196.35,1174.20 L197.19,1174.76 L198.04,1175.31 L198.88,1175.86 L199.73,1176.40 L200.57,1176.94 L201.42,1177.47 L202.26,1177.99 L203.11,1178.50 L203.95,1179.01 L204.80,1179.51 L205.64,1180.00 L206.49,1180.48 L207.33,1180.96 L208.18,1181.43 L209.02,1181.89 L209.87,1182.34 L210.71,1182.79 L211.56,1183.23 L212.40,1183.66 L213.25,1184.08 L214.09,1184.50 L214.94,1184.91 L215.78,1185.31 L216.62,1185.70 L217.47,1186.08 L218.31,1186.46 L219.16,1186.83 L220.00,1187.19 L220.85,1187.54 L221.70,1187.88 L222.54,1188.22 L223.38,1188.55 L224.23,1188.87 L225.08,1189.18 L225.92,1189.48 L226.77,1189.77 L227.61,1190.06 L228.46,1190.34 L229.30,1190.60 L230.15,1190.86 L230.99,1191.12 L231.84,1191.36 L232.68,1191.59 L233.53,1191.82 L234.37,1192.03 L235.22,1192.24 L236.06,1192.44 L236.91,1192.63 L237.75,1192.82 L238.60,1192.99 L239.44,1193.15 L240.29,1193.31 L241.13,1193.46 L241.98,1193.59 L242.82,1193.72 L243.67,1193.84 L244.51,1193.96 L245.36,1194.06 L246.20,1194.15 L247.05,1194.24 L247.89,1194.31 L248.74,1194.38 L249.58,1194.44 L250.43,1194.49 L251.27,1194.53 L252.12,1194.56 L252.96,1194.58 L253.81,1194.60 L254.65,1194.60 L255.50,1194.60 L256.34,1194.58 L257.19,1194.56 L258.03,1194.53 L258.88,1194.49 L259.72,1194.44 L260.56,1194.38 L261.41,1194.31 L262.25,1194.24 L263.10,1194.15 L263.95,1194.06 L264.79,1193.96 L265.63,1193.84 L266.48,1193.72 L267.32,1193.59 L268.17,1193.46 L269.01,1193.31 L269.86,1193.15 L270.71,1192.99 L271.55,1192.82 L272.39,1192.63 L273.24,1192.44 L274.09,1192.24 L274.93,1192.03 L275.77,1191.82 L276.62,1191.59 L277.47,1191.36 L278.31,1191.12 L279.16,1190.86 L280.00,1190.60 L280.85,1190.34 L281.69,1190.06 L282.54,1189.77 L283.38,1189.48 L284.23,1189.18 L285.07,1188.87 L285.92,1188.55 L286.76,1188.22 L287.61,1187.88 L288.45,1187.54 L289.30,1187.19 L290.14,1186.83 L290.99,1186.46 L291.83,1186.08 L292.68,1185.70 L293.52,1185.31 L294.37,1184.91 L295.21,1184.50 L296.06,1184.08 L296.90,1183.66 L297.75,1183.23 L298.59,1182.79 L299.44,1182.34 L300.28,1181.89 L301.12,1181.43 L301.97,1180.96 L302.81,1180.48 L303.66,1180.00 L304.50,1179.51 L305.35,1179.01 L306.20,1178.50 L307.04,1177.99 L307.88,1177.47 L308.73,1176.94 L309.58,1176.40 L310.42,1175.86 L311.26,1175.31 L312.11,1174.76 L312.96,1174.20 L313.80,1173.63 L314.64,1173.05 L315.49,1172.47 L316.34,1171.88 L317.18,1171.29 L318.02,1170.69 L318.87,1170.08 L319.72,1169.46 L320.56,1168.84 L321.40,1168.22 L322.25,1167.58 L323.10,1166.95 L323.94,1166.30 L324.79,1165.65 L325.63,1165.00 L326.48,1164.33 L327.32,1163.67 L328.16,1162.99 L329.01,1162.32 L329.86,1161.63 L330.70,1160.94 L331.55,1160.25 L332.39,1159.55 L333.24,1158.84 L334.08,1158.13 L334.93,1157.42 L335.77,1156.70 L336.62,1155.98 L337.46,1155.25 L338.31,1154.51 L339.15,1153.77 L340.00,1153.03 L340.84,1152.29 L341.69,1151.53 L342.53,1150.78 L343.38,1150.02 L344.22,1149.25 L345.07,1148.49 L345.91,1147.71 L346.75,1146.94 L347.60,1146.16 L348.44,1145.38 L349.29,1144.59 L350.13,1143.80 L350.98,1143.01 L351.83,1142.21 L352.67,1141.41 L353.52,1140.61 L354.36,1139.80 L355.21,1138.99 L356.05,1138.18 L356.89,1137.37 L357.74,1136.55 L358.59,1135.73 L359.43,1134.91 L360.28,1134.08 L361.12,1133.26 L361.97,1132.43 L362.81,1131.59 L363.66,1130.76 L364.50,1129.93 L365.35,1129.09 L366.19,1128.25 L367.04,1127.41 L367.88,1126.57 L368.73,1125.72 L369.57,1124.88 L370.42,1124.03 L371.26,1123.18 L372.11,1122.33 L372.95,1121.48 L373.80,1120.63 L374.64,1119.78 L375.49,1118.93 L376.33,1118.08 L377.18,1117.22 L378.02,1116.37 L378.87,1115.51 L379.71,1114.66 L380.56,1113.81 L381.40,1112.95 L382.25,1112.09 L383.09,1111.24 L383.94,1110.39 L384.78,1109.53 L385.62,1108.68 L386.47,1107.82 L387.32,1106.97 L388.16,1106.12 L389.00,1105.27 L389.85,1104.42 L390.70,1103.57 L391.54,1102.72 L392.38,1101.87 L393.23,1101.02 L394.08,1100.18 L394.92,1099.33 L395.76,1098.49 L396.61,1097.65 L397.46,1096.81 L398.30,1095.97 L399.14,1095.14 L399.99,1094.31 L400.84,1093.47 L401.68,1092.64 L402.52,1091.82 L403.37,1090.99 L404.22,1090.17 L405.06,1089.35 L405.91,1088.53 L406.75,1087.72 L407.60,1086.91 L408.44,1086.10 L409.28,1085.29 L410.13,1084.49 L410.98,1083.69 L411.82,1082.89 L412.66,1082.10 L413.51,1081.31 L414.36,1080.52 L415.20,1079.74 L416.04,1078.96 L416.89,1078.19 L417.74,1077.41 L418.58,1076.65 L419.43,1075.88 L420.27,1075.12 L421.12,1074.37 L421.96,1073.61 L422.81,1072.87 L423.65,1072.12 L424.50,1071.39 L425.34,1070.65 L426.19,1069.92 L427.03,1069.20 L427.88,1068.48 L428.72,1067.77 L429.57,1067.06 L430.41,1066.35 L431.25,1065.65 L432.10,1064.96 L432.95,1064.27 L433.79,1063.58 L434.64,1062.91 L435.48,1062.23 L436.33,1061.57 L437.17,1060.90 L438.02,1060.25 L438.86,1059.60 L439.71,1058.95 L440.55,1058.32 L441.39,1057.68 L442.24,1057.06 L443.09,1056.44 L443.93,1055.82 L444.77,1055.21 L445.62,1054.61 L446.47,1054.02 L447.31,1053.43 L448.15,1052.85 L449.00,1052.27 L449.85,1051.70 L450.69,1051.14 L451.53,1050.59 L452.38,1050.04 L453.23,1049.50 L454.07,1048.96 L454.92,1048.43 L455.76,1047.91 L456.61,1047.40 L457.45,1046.89 L458.30,1046.39 L459.14,1045.90 L459.99,1045.42 L460.83,1044.94 L461.68,1044.47 L462.52,1044.01 L463.37,1043.56 L464.21,1043.11 L465.05,1042.67 L465.90,1042.24 L466.75,1041.82 L467.59,1041.40 L468.43,1040.99 L469.28,1040.59 L470.12,1040.20 L470.97,1039.82 L471.82,1039.44 L472.66,1039.07 L473.50,1038.71 L474.35,1038.36 L475.20,1038.02 L476.04,1037.68 L476.88,1037.35 L477.73,1037.03 L478.58,1036.72 L479.42,1036.42 L480.27,1036.13 L481.11,1035.84 L481.96,1035.56 L482.80,1035.30 L483.65,1035.04 L484.49,1034.78 L485.34,1034.54 L486.18,1034.31 L487.02,1034.08 L487.87,1033.87 L488.72,1033.66 L489.56,1033.46 L490.41,1033.27 L491.25,1033.08 L492.10,1032.91 L492.94,1032.75 L493.79,1032.59 L494.63,1032.44 L495.48,1032.31 L496.32,1032.18 L497.16,1032.06 L498.01,1031.94 L498.86,1031.84 L499.70,1031.75 L500.54,1031.66 L501.39,1031.59 L502.24,1031.52 L503.08,1031.46 L503.92,1031.41 L504.77,1031.37 L505.62,1031.34 L506.46,1031.32 L507.31,1031.30 L508.15,1031.30 L509.00,1031.30 L509.84,1031.32 L510.69,1031.34 L511.53,1031.37 L512.38,1031.41 L513.22,1031.46 L514.07,1031.52 L514.91,1031.59 L515.76,1031.66 L516.60,1031.75 L517.45,1031.84 L518.29,1031.94 L519.13,1032.06 L519.98,1032.18 L520.83,1032.31 L521.67,1032.44 L522.51,1032.59 L523.36,1032.75 L524.21,1032.91 L525.05,1033.08 L525.90,1033.27 L526.74,1033.46 L527.59,1033.66 L528.43,1033.87 L529.28,1034.08 L530.12,1034.31 L530.97,1034.54 L531.81,1034.78 L532.65,1035.04 L533.50,1035.30 L534.35,1035.56 L535.19,1035.84 L536.03,1036.13 L536.88,1036.42 L537.73,1036.72 L538.57,1037.03 L539.42,1037.35 L540.26,1037.68 L541.11,1038.02 L541.95,1038.36 L542.80,1038.71 L543.64,1039.07 L544.49,1039.44 L545.33,1039.82 L546.18,1040.20 L547.02,1040.59 L547.87,1040.99 L548.71,1041.40 L549.56,1041.82 L550.40,1042.24 L551.25,1042.67 L552.09,1043.11 L552.94,1043.56 L553.78,1044.01 L554.62,1044.47 L555.47,1044.94 L556.32,1045.42 L557.16,1045.90 L558.00,1046.39 L558.85,1046.89 L559.69,1047.40 L560.54,1047.91 L561.39,1048.43 L562.23,1048.96 L563.08,1049.50 L563.92,1050.04 L564.76,1050.59 L565.61,1051.14 L566.46,1051.70 L567.30,1052.27 L568.14,1052.85 L568.99,1053.43 L569.84,1054.02 L570.68,1054.61 L571.53,1055.21 L572.37,1055.82 L573.22,1056.44 L574.06,1057.06 L574.91,1057.68 L575.75,1058.32 L576.60,1058.95 L577.44,1059.60 L578.28,1060.25 L579.13,1060.90 L579.98,1061.57 L580.82,1062.23 L581.67,1062.91 L582.51,1063.58 L583.36,1064.27 L584.20,1064.96 L585.05,1065.65 L585.89,1066.35 L586.74,1067.06 L587.58,1067.77 L588.43,1068.48 L589.27,1069.20 L590.12,1069.92 L590.96,1070.65 L591.80,1071.39 L592.65,1072.12 L593.50,1072.87 L594.34,1073.61 L595.18,1074.37 L596.03,1075.12 L596.88,1075.88 L597.72,1076.65 L598.57,1077.41 L599.41,1078.19 L600.25,1078.96 L601.10,1079.74 L601.95,1080.52 L602.79,1081.31 L603.64,1082.10 L604.48,1082.89 L605.33,1083.69 L606.17,1084.49 L607.02,1085.29 L607.86,1086.10 L608.71,1086.91 L609.55,1087.72 L610.40,1088.53 L611.24,1089.35 L612.09,1090.17 L612.93,1090.99 L613.77,1091.82 L614.62,1092.64 L615.47,1093.47 L616.31,1094.31 L617.16,1095.14 L618.00,1095.97 L618.85,1096.81 L619.69,1097.65 L620.54,1098.49 L621.38,1099.33 L622.23,1100.18 L623.07,1101.02 L623.91,1101.87 L624.76,1102.72 L625.61,1103.57 L626.45,1104.42 L627.29,1105.27 L628.14,1106.12 L628.99,1106.97 L629.83,1107.82 L630.68,1108.68 L631.52,1109.53 L632.37,1110.39 L633.21,1111.24 L634.06,1112.09 L634.90,1112.95" fill="none" stroke="#8DB92F" stroke-width="4.5" stroke-dasharray="17.9,6.5"/>
<rect x="103.40" y="1014.70" width="557.10" height="196.20" fill="none" stroke="#000" stroke-width="2"/>
<line x1="103.40" y1="1031.30" x2="111.50" y2="1031.30" stroke="#000" stroke-width="2" />
<line x1="660.50" y1="1031.30" x2="652.40" y2="1031.30" stroke="#000" stroke-width="2" />
<line x1="103.40" y1="1112.95" x2="111.50" y2="1112.95" stroke="#000" stroke-width="2" />
<line x1="660.50" y1="1112.95" x2="652.40" y2="1112.95" stroke="#000" stroke-width="2" />
<line x1="103.40" y1="1194.60" x2="111.50" y2="1194.60" stroke="#000" stroke-width="2" />
<line x1="660.50" y1="1194.60" x2="652.40" y2="1194.60" stroke="#000" stroke-width="2" />
<line x1="127.90" y1="1210.90" x2="127.90" y2="1202.30" stroke="#000" stroke-width="2" />
<line x1="127.90" y1="1014.70" x2="127.90" y2="1023.50" stroke="#000" stroke-width="2" />
<line x1="254.65" y1="1210.90" x2="254.65" y2="1202.30" stroke="#000" stroke-width="2" />
<line x1="254.65" y1="1014.70" x2="254.65" y2="1023.50" stroke="#000" stroke-width="2" />
<line x1="381.40" y1="1210.90" x2="381.40" y2="1202.30" stroke="#000" stroke-width="2" />
<line x1="381.40" y1="1014.70" x2="381.40" y2="1023.50" stroke="#000" stroke-width="2" />
<line x1="508.15" y1="1210.90" x2="508.15" y2="1202.30" stroke="#000" stroke-width="2" />
<line x1="508.15" y1="1014.70" x2="508.15" y2="1023.50" stroke="#000" stroke-width="2" />
<line x1="634.90" y1="1210.90" x2="634.90" y2="1202.30" stroke="#000" stroke-width="2" />
<line x1="634.90" y1="1014.70" x2="634.90" y2="1023.50" stroke="#000" stroke-width="2" />
<path d="M461.9,1245.1 L470.6,1261.9 L453.2,1261.9 Z M461.9,1249.6 L456.2,1260.2 L467.6,1260.2 Z" fill="#000" fill-rule="evenodd"/>
<polygon points="530.10,1057.10 538.45,1070.70 521.75,1070.70" fill="#8DB92F"/>
<line x1="539.30" y1="1085.20" x2="546.80" y2="1057.40" stroke="#8DB92F" stroke-width="2.6" />
<circle cx="556.10" cy="1077.90" r="8.3" fill="#8DB92F"/>
<circle cx="455.80" cy="1146.20" r="8.3" fill="#FF6D1F"/>
<line x1="465.30" y1="1166.70" x2="472.80" y2="1139.30" stroke="#FF6D1F" stroke-width="2.6" />
<rect x="473.80" y="1151.20" width="16.90" height="16.90" fill="#FF6D1F"/>
<g transform="translate(0.540,25.556) scale(0.30330,0.29447)"><g transform="rotate(0)"><text stroke="#000" stroke-width="0.40" stroke-linejoin="round" letter-spacing="0.192" x="0" y="0" font-family="Liberation Sans" font-size="100">(a)</text></g></g>
<g transform="translate(58.236,27.371) scale(0.21894,0.20851)"><g transform="rotate(0)"><text stroke="#000" stroke-width="1.40" stroke-linejoin="round" letter-spacing="8.089" x="0" y="0" font-family="Liberation Sans" font-size="100">(i)</text></g></g>
<g transform="translate(57.850,171.416) scale(0.21670,0.20638)"><g transform="rotate(0)"><text stroke="#000" stroke-width="1.42" stroke-linejoin="round" letter-spacing="6.993" x="0" y="0" font-family="Liberation Sans" font-size="100">(ii)</text></g></g>
<g transform="translate(30.300,234.770) scale(0.25000,0.26500)"><g transform="rotate(-90)"><text stroke="#000" stroke-width="1.17" stroke-linejoin="round" letter-spacing="4.521" x="0" y="0" font-family="Liberation Sans" font-size="100">Lab Frame</text></g></g>
<g transform="translate(30.181,538.250) scale(0.26857,0.28469)"><g transform="rotate(-90)"><text stroke="#000" stroke-width="1.08" stroke-linejoin="round" letter-spacing="0.922" x="0" y="0" font-family="Liberation Sans" font-size="100">Atom Frame</text></g></g>
<g transform="translate(148.178,43.424) scale(0.17407,0.17576)"><g transform="rotate(0)"><text stroke="#000" stroke-width="1.14" stroke-linejoin="round" x="0" y="0" font-family="Liberation Serif" font-size="100">I</text></g></g>
<g transform="translate(154.951,43.385) scale(0.17476,0.16486)"><g transform="rotate(0)"><text stroke="#000" stroke-width="1.77" stroke-linejoin="round" letter-spacing="3.365" x="0" y="0" font-family="Liberation Sans" font-size="100">dler</text></g></g>
<g transform="translate(323.812,40.837) scale(0.16724,0.15778)"><g transform="rotate(0)"><text stroke="#000" stroke-width="1.85" stroke-linejoin="round" letter-spacing="3.301" x="0" y="0" font-family="Liberation Sans" font-size="100">Pump</text></g></g>
<g transform="translate(510.482,41.210) scale(0.17366,0.16383)"><g transform="rotate(0)"><text stroke="#000" stroke-width="1.78" stroke-linejoin="round" letter-spacing="1.850" x="0" y="0" font-family="Liberation Sans" font-size="100">Signal</text></g></g>
<g transform="translate(162.124,138.359) scale(0.21905,0.22059)"><g transform="rotate(0)"><text x="0" y="0" font-family="Liberation Serif" font-size="100">0</text></g></g>
<g transform="translate(341.176,137.459) scale(0.23095,0.22059)"><g transform="rotate(0)"><text x="0" y="0" font-family="Liberation Serif" font-size="100">0</text></g></g>
<g transform="translate(529.795,137.459) scale(0.22619,0.22059)"><g transform="rotate(0)"><text x="0" y="0" font-family="Liberation Serif" font-size="100">0</text></g></g>
<g transform="translate(299.087,137.583) scale(0.20444,0.21690)"><g transform="rotate(0)"><text x="0" y="0" font-family="Liberation Serif" font-size="100" font-style="italic">&#948;</text></g></g>
<g transform="translate(309.300,141.044) scale(0.20169,0.15606)"><g transform="rotate(0)"><text x="0" y="0" font-family="Liberation Serif" font-size="100" font-style="italic">P</text></g></g>
<g transform="translate(381.687,137.383) scale(0.20444,0.21690)"><g transform="rotate(0)"><text x="0" y="0" font-family="Liberation Serif" font-size="100" font-style="italic">&#948;</text></g></g>
<g transform="translate(391.900,140.745) scale(0.20339,0.15455)"><g transform="rotate(0)"><text x="0" y="0" font-family="Liberation Serif" font-size="100" font-style="italic">P</text></g></g>
<g transform="translate(488.193,137.485) scale(0.20222,0.21549)"><g transform="rotate(0)"><text x="0" y="0" font-family="Liberation Serif" font-size="100" font-style="italic">&#948;</text></g></g>
<g transform="translate(498.798,141.076) scale(0.20213,0.16176)"><g transform="rotate(0)"><text x="0" y="0" font-family="Liberation Serif" font-size="100" font-style="italic">S</text></g></g>
<g transform="translate(569.993,137.383) scale(0.20222,0.21690)"><g transform="rotate(0)"><text x="0" y="0" font-family="Liberation Serif" font-size="100" font-style="italic">&#948;</text></g></g>
<g transform="translate(580.598,140.879) scale(0.20213,0.16029)"><g transform="rotate(0)"><text x="0" y="0" font-family="Liberation Serif" font-size="100" font-style="italic">S</text></g></g>
<g transform="translate(642.229,94.650) scale(0.25714,0.25000)"><g transform="rotate(0)"><text x="0" y="0" font-family="Liberation Serif" font-size="100" font-style="italic">&#969;</text></g></g>
<g transform="translate(636.741,296.650) scale(0.28974,0.25000)"><g transform="rotate(0)"><text x="0" y="0" font-family="Liberation Serif" font-size="100" font-style="italic">&#965;</text></g></g>
<g transform="translate(58.123,368.227) scale(0.22117,0.21064)"><g transform="rotate(0)"><text stroke="#000" stroke-width="1.39" stroke-linejoin="round" letter-spacing="5.243" x="0" y="0" font-family="Liberation Sans" font-size="100">(iii)</text></g></g>
<g transform="translate(276.823,368.427) scale(0.22117,0.21064)"><g transform="rotate(0)"><text stroke="#000" stroke-width="1.39" stroke-linejoin="round" letter-spacing="6.046" x="0" y="0" font-family="Liberation Sans" font-size="100">(iv)</text></g></g>
<g transform="translate(489.723,368.227) scale(0.22117,0.21064)"><g transform="rotate(0)"><text stroke="#000" stroke-width="1.39" stroke-linejoin="round" letter-spacing="8.361" x="0" y="0" font-family="Liberation Sans" font-size="100">(v)</text></g></g>
<g transform="translate(166.509,388.600) scale(0.23023,0.20000)"><g transform="rotate(0)"><text x="0" y="0" font-family="Liberation Serif" font-size="100" font-style="italic">a</text></g></g>
<g transform="translate(214.692,449.108) scale(0.20250,0.19167)"><g transform="rotate(0)"><text x="0" y="0" font-family="Liberation Serif" font-size="100" font-style="italic">c</text></g></g>
<g transform="translate(167.102,509.103) scale(0.17442,0.19714)"><g transform="rotate(0)"><text x="0" y="0" font-family="Liberation Serif" font-size="100" font-style="italic">b</text></g></g>
<g transform="translate(81.129,457.240) scale(0.16930,0.18521)"><g transform="rotate(0)"><text stroke="#000" stroke-width="0.85" stroke-linejoin="round" x="0" y="0" font-family="Liberation Sans" font-size="100">S</text></g></g>
<g transform="translate(178.853,422.725) scale(0.15278,0.18768)"><g transform="rotate(0)"><text stroke="#000" stroke-width="0.88" stroke-linejoin="round" x="0" y="0" font-family="Liberation Sans" font-size="100">P</text></g></g>
<g transform="translate(140.744,486.608) scale(0.18519,0.19242)"><g transform="rotate(0)"><text x="0" y="0" font-family="Liberation Serif" font-size="100">I</text></g></g>
<g transform="translate(382.309,388.600) scale(0.23023,0.20000)"><g transform="rotate(0)"><text x="0" y="0" font-family="Liberation Serif" font-size="100" font-style="italic">a</text></g></g>
<g transform="translate(430.492,449.108) scale(0.20250,0.19167)"><g transform="rotate(0)"><text x="0" y="0" font-family="Liberation Serif" font-size="100" font-style="italic">c</text></g></g>
<g transform="translate(382.902,509.103) scale(0.17442,0.19714)"><g transform="rotate(0)"><text x="0" y="0" font-family="Liberation Serif" font-size="100" font-style="italic">b</text></g></g>
<g transform="translate(296.929,457.240) scale(0.16930,0.18521)"><g transform="rotate(0)"><text stroke="#000" stroke-width="0.85" stroke-linejoin="round" x="0" y="0" font-family="Liberation Sans" font-size="100">S</text></g></g>
<g transform="translate(394.653,422.725) scale(0.15278,0.18768)"><g transform="rotate(0)"><text stroke="#000" stroke-width="0.88" stroke-linejoin="round" x="0" y="0" font-family="Liberation Sans" font-size="100">P</text></g></g>
<g transform="translate(356.544,486.608) scale(0.18519,0.19242)"><g transform="rotate(0)"><text x="0" y="0" font-family="Liberation Serif" font-size="100">I</text></g></g>
<g transform="translate(592.709,388.600) scale(0.23023,0.20000)"><g transform="rotate(0)"><text x="0" y="0" font-family="Liberation Serif" font-size="100" font-style="italic">a</text></g></g>
<g transform="translate(640.893,449.108) scale(0.20250,0.19167)"><g transform="rotate(0)"><text x="0" y="0" font-family="Liberation Serif" font-size="100" font-style="italic">c</text></g></g>
<g transform="translate(593.302,509.103) scale(0.17442,0.19714)"><g transform="rotate(0)"><text x="0" y="0" font-family="Liberation Serif" font-size="100" font-style="italic">b</text></g></g>
<g transform="translate(507.329,457.240) scale(0.16930,0.18521)"><g transform="rotate(0)"><text stroke="#000" stroke-width="0.85" stroke-linejoin="round" x="0" y="0" font-family="Liberation Sans" font-size="100">S</text></g></g>
<g transform="translate(605.053,422.725) scale(0.15278,0.18768)"><g transform="rotate(0)"><text stroke="#000" stroke-width="0.88" stroke-linejoin="round" x="0" y="0" font-family="Liberation Sans" font-size="100">P</text></g></g>
<g transform="translate(566.944,486.608) scale(0.18519,0.19242)"><g transform="rotate(0)"><text x="0" y="0" font-family="Liberation Serif" font-size="100">I</text></g></g>
<g transform="translate(127.169,559.146) scale(0.30769,0.25417)"><g transform="rotate(0)"><text x="0" y="0" font-family="Liberation Serif" font-size="100" font-style="italic">&#965;</text></g></g>
<g transform="translate(175.090,559.468) scale(0.25238,0.26618)"><g transform="rotate(0)"><text x="0" y="0" font-family="Liberation Serif" font-size="100">0</text></g></g>
<g transform="translate(342.779,557.742) scale(0.30513,0.25833)"><g transform="rotate(0)"><text x="0" y="0" font-family="Liberation Serif" font-size="100" font-style="italic">&#965;</text></g></g>
<g transform="translate(390.895,557.868) scale(0.27619,0.26618)"><g transform="rotate(0)"><text x="0" y="0" font-family="Liberation Serif" font-size="100">0</text></g></g>
<g transform="translate(552.779,559.146) scale(0.30513,0.25417)"><g transform="rotate(0)"><text x="0" y="0" font-family="Liberation Serif" font-size="100" font-style="italic">&#965;</text></g></g>
<g transform="translate(600.895,559.468) scale(0.27619,0.26618)"><g transform="rotate(0)"><text x="0" y="0" font-family="Liberation Serif" font-size="100">0</text></g></g>
<g transform="translate(0.372,635.415) scale(0.28127,0.26787)"><g transform="rotate(0)"><text stroke="#000" stroke-width="0.44" stroke-linejoin="round" letter-spacing="8.428" x="0" y="0" font-family="Liberation Sans" font-size="100">(b)</text></g></g>
<g transform="translate(641.181,712.225) scale(0.27302,0.27500)"><g transform="rotate(0)"><text x="0" y="0" font-family="Liberation Serif" font-size="100" font-style="italic">&#969;</text></g></g>
<g transform="translate(145.790,755.231) scale(0.26984,0.26875)"><g transform="rotate(0)"><text x="0" y="0" font-family="Liberation Serif" font-size="100" font-style="italic">&#969;</text></g></g>
<g transform="translate(165.600,759.785) scale(0.24865,0.21515)"><g transform="rotate(0)"><text x="0" y="0" font-family="Liberation Serif" font-size="100" font-style="italic">I</text></g></g>
<g transform="translate(339.262,755.133) scale(0.27937,0.26667)"><g transform="rotate(0)"><text x="0" y="0" font-family="Liberation Serif" font-size="100" font-style="italic">&#969;</text></g></g>
<g transform="translate(359.300,759.785) scale(0.26102,0.21515)"><g transform="rotate(0)"><text x="0" y="0" font-family="Liberation Serif" font-size="100" font-style="italic">P</text></g></g>
<g transform="translate(537.700,755.125) scale(0.26667,0.27500)"><g transform="rotate(0)"><text x="0" y="0" font-family="Liberation Serif" font-size="100" font-style="italic">&#969;</text></g></g>
<g transform="translate(557.634,759.556) scale(0.26596,0.22206)"><g transform="rotate(0)"><text x="0" y="0" font-family="Liberation Serif" font-size="100" font-style="italic">S</text></g></g>
<g transform="translate(212.443,637.204) scale(0.18571,0.19583)"><g transform="rotate(0)"><text x="0" y="0" font-family="Liberation Serif" font-size="100" font-style="italic">&#969;</text></g></g>
<g transform="translate(226.144,639.955) scale(0.15605,0.14478)"><g transform="rotate(0)"><text x="0" y="0" font-family="Liberation Serif" font-size="100">AM</text></g></g>
<g transform="translate(452.338,634.706) scale(0.18730,0.19375)"><g transform="rotate(0)"><text x="0" y="0" font-family="Liberation Serif" font-size="100" font-style="italic">&#969;</text></g></g>
<g transform="translate(465.841,637.654) scale(0.15860,0.14627)"><g transform="rotate(0)"><text x="0" y="0" font-family="Liberation Serif" font-size="100">AM</text></g></g>
<g transform="translate(0.386,831.159) scale(0.27903,0.26574)"><g transform="rotate(0)"><text stroke="#000" stroke-width="0.44" stroke-linejoin="round" letter-spacing="6.560" x="0" y="0" font-family="Liberation Sans" font-size="100">(c)</text></g></g>
<g transform="translate(641.181,932.827) scale(0.27302,0.27292)"><g transform="rotate(0)"><text x="0" y="0" font-family="Liberation Serif" font-size="100" font-style="italic">&#969;</text></g></g>
<g transform="translate(145.790,975.631) scale(0.26984,0.26875)"><g transform="rotate(0)"><text x="0" y="0" font-family="Liberation Serif" font-size="100" font-style="italic">&#969;</text></g></g>
<g transform="translate(165.600,980.185) scale(0.24865,0.21515)"><g transform="rotate(0)"><text x="0" y="0" font-family="Liberation Serif" font-size="100" font-style="italic">I</text></g></g>
<g transform="translate(339.262,975.533) scale(0.27937,0.26667)"><g transform="rotate(0)"><text x="0" y="0" font-family="Liberation Serif" font-size="100" font-style="italic">&#969;</text></g></g>
<g transform="translate(359.300,980.185) scale(0.26102,0.21515)"><g transform="rotate(0)"><text x="0" y="0" font-family="Liberation Serif" font-size="100" font-style="italic">P</text></g></g>
<g transform="translate(537.700,975.525) scale(0.26667,0.27500)"><g transform="rotate(0)"><text x="0" y="0" font-family="Liberation Serif" font-size="100" font-style="italic">&#969;</text></g></g>
<g transform="translate(557.634,979.956) scale(0.26596,0.22206)"><g transform="rotate(0)"><text x="0" y="0" font-family="Liberation Serif" font-size="100" font-style="italic">S</text></g></g>
<g transform="translate(222.729,821.615) scale(0.19048,0.18542)"><g transform="rotate(0)"><text x="0" y="0" font-family="Liberation Serif" font-size="100" font-style="italic">&#969;</text></g></g>
<g transform="translate(236.243,824.858) scale(0.15732,0.14179)"><g transform="rotate(0)"><text x="0" y="0" font-family="Liberation Serif" font-size="100">AM</text></g></g>
<g transform="translate(247.019,841.008) scale(0.19365,0.19167)"><g transform="rotate(0)"><text x="0" y="0" font-family="Liberation Serif" font-size="100" font-style="italic">&#969;</text></g></g>
<g transform="translate(259.865,844.147) scale(0.17842,0.15303)"><g transform="rotate(0)"><text x="0" y="0" font-family="Liberation Serif" font-size="100">PM</text></g></g>
<g transform="translate(474.746,860.707) scale(0.18846,0.20444)"><g transform="rotate(0)"><text x="0" y="0" font-family="Liberation Serif" font-size="100">(</text></g></g>
<g transform="translate(525.658,860.707) scale(0.18077,0.20444)"><g transform="rotate(0)"><text x="0" y="0" font-family="Liberation Serif" font-size="100">)</text></g></g>
<g transform="translate(499.347,859.777) scale(0.21333,0.25769)"><g transform="rotate(0)"><text x="0" y="0" font-family="Liberation Serif" font-size="100">,</text></g></g>
<g transform="translate(562.715,860.707) scale(0.19615,0.20444)"><g transform="rotate(0)"><text x="0" y="0" font-family="Liberation Serif" font-size="100">(</text></g></g>
<g transform="translate(614.069,860.707) scale(0.17692,0.20444)"><g transform="rotate(0)"><text x="0" y="0" font-family="Liberation Serif" font-size="100">)</text></g></g>
<g transform="translate(587.647,859.777) scale(0.21333,0.25769)"><g transform="rotate(0)"><text x="0" y="0" font-family="Liberation Serif" font-size="100">,</text></g></g>
<g transform="translate(474.746,889.707) scale(0.18846,0.20444)"><g transform="rotate(0)"><text x="0" y="0" font-family="Liberation Serif" font-size="100">(</text></g></g>
<g transform="translate(525.658,889.707) scale(0.18077,0.20444)"><g transform="rotate(0)"><text x="0" y="0" font-family="Liberation Serif" font-size="100">)</text></g></g>
<g transform="translate(499.347,888.777) scale(0.21333,0.25769)"><g transform="rotate(0)"><text x="0" y="0" font-family="Liberation Serif" font-size="100">,</text></g></g>
<g transform="translate(562.715,889.707) scale(0.19615,0.20444)"><g transform="rotate(0)"><text x="0" y="0" font-family="Liberation Serif" font-size="100">(</text></g></g>
<g transform="translate(614.069,889.707) scale(0.17692,0.20444)"><g transform="rotate(0)"><text x="0" y="0" font-family="Liberation Serif" font-size="100">)</text></g></g>
<g transform="translate(587.647,888.777) scale(0.21333,0.25769)"><g transform="rotate(0)"><text x="0" y="0" font-family="Liberation Serif" font-size="100">,</text></g></g>
<g transform="translate(0.393,1017.282) scale(0.27791,0.26468)"><g transform="rotate(0)"><text stroke="#000" stroke-width="0.44" stroke-linejoin="round" letter-spacing="9.192" x="0" y="0" font-family="Liberation Sans" font-size="100">(d)</text></g></g>
<g transform="translate(56.128,1039.712) scale(0.25276,0.23803)"><g transform="rotate(0)"><text stroke="#000" stroke-width="1.22" stroke-linejoin="round" x="0" y="0" font-family="Liberation Sans" font-size="100">1.0</text></g></g>
<g transform="translate(55.833,1121.611) scale(0.25420,0.23944)"><g transform="rotate(0)"><text stroke="#000" stroke-width="1.22" stroke-linejoin="round" x="0" y="0" font-family="Liberation Sans" font-size="100">0.5</text></g></g>
<g transform="translate(56.030,1203.306) scale(0.25496,0.24366)"><g transform="rotate(0)"><text stroke="#000" stroke-width="1.20" stroke-linejoin="round" x="0" y="0" font-family="Liberation Sans" font-size="100">0.0</text></g></g>
<g transform="translate(121.192,1238.504) scale(0.23958,0.24648)"><g transform="rotate(0)"><text stroke="#000" stroke-width="1.23" stroke-linejoin="round" x="0" y="0" font-family="Liberation Sans" font-size="100">0</text></g></g>
<g transform="translate(235.957,1238.474) scale(0.24314,0.22553)"><g transform="rotate(0)"><text x="0" y="0" font-family="Liberation Serif" font-size="100"><tspan font-style="italic">&#960;</tspan></text></g></g>
<g transform="translate(250.100,1243.125) scale(0.32500,0.33731)"><g transform="rotate(0)"><text x="0" y="0" font-family="Liberation Serif" font-size="100">/</text></g></g>
<g transform="translate(260.912,1238.482) scale(0.22195,0.21791)"><g transform="rotate(0)"><text x="0" y="0" font-family="Liberation Serif" font-size="100">2</text></g></g>
<g transform="translate(374.245,1237.274) scale(0.25490,0.22553)"><g transform="rotate(0)"><text x="0" y="0" font-family="Liberation Serif" font-size="100"><tspan font-style="italic">&#960;</tspan></text></g></g>
<g transform="translate(483.180,1238.372) scale(0.24390,0.22836)"><g transform="rotate(0)"><text x="0" y="0" font-family="Liberation Serif" font-size="100">3</text></g></g>
<g transform="translate(496.380,1238.374) scale(0.21961,0.22553)"><g transform="rotate(0)"><text x="0" y="0" font-family="Liberation Serif" font-size="100"><tspan font-style="italic">&#960;</tspan></text></g></g>
<g transform="translate(509.300,1243.219) scale(0.34643,0.34030)"><g transform="rotate(0)"><text x="0" y="0" font-family="Liberation Serif" font-size="100">/</text></g></g>
<g transform="translate(519.734,1238.372) scale(0.24146,0.22836)"><g transform="rotate(0)"><text x="0" y="0" font-family="Liberation Serif" font-size="100">2</text></g></g>
<g transform="translate(621.816,1236.666) scale(0.24592,0.23433)"><g transform="rotate(0)"><text x="0" y="0" font-family="Liberation Serif" font-size="100">2<tspan font-style="italic">&#960;</tspan></text></g></g>
<g transform="translate(37.648,1174.808) scale(0.21915,0.23230)"><g transform="rotate(-90)"><text stroke="#000" stroke-width="1.33" stroke-linejoin="round" letter-spacing="4.620" x="0" y="0" font-family="Liberation Sans" font-size="100">Power (au)</text></g></g>
<g transform="translate(274.436,1261.224) scale(0.23922,0.22568)"><g transform="rotate(0)"><text stroke="#000" stroke-width="1.29" stroke-linejoin="round" letter-spacing="3.093" x="0" y="0" font-family="Liberation Sans" font-size="100">Relative Phase</text></g></g>
<g transform="translate(471.962,1261.677) scale(0.26875,0.22967)"><g transform="rotate(0)"><text x="0" y="0" font-family="Liberation Serif" font-size="100" font-style="italic">&#981;</text></g></g>
</svg></body></html>
